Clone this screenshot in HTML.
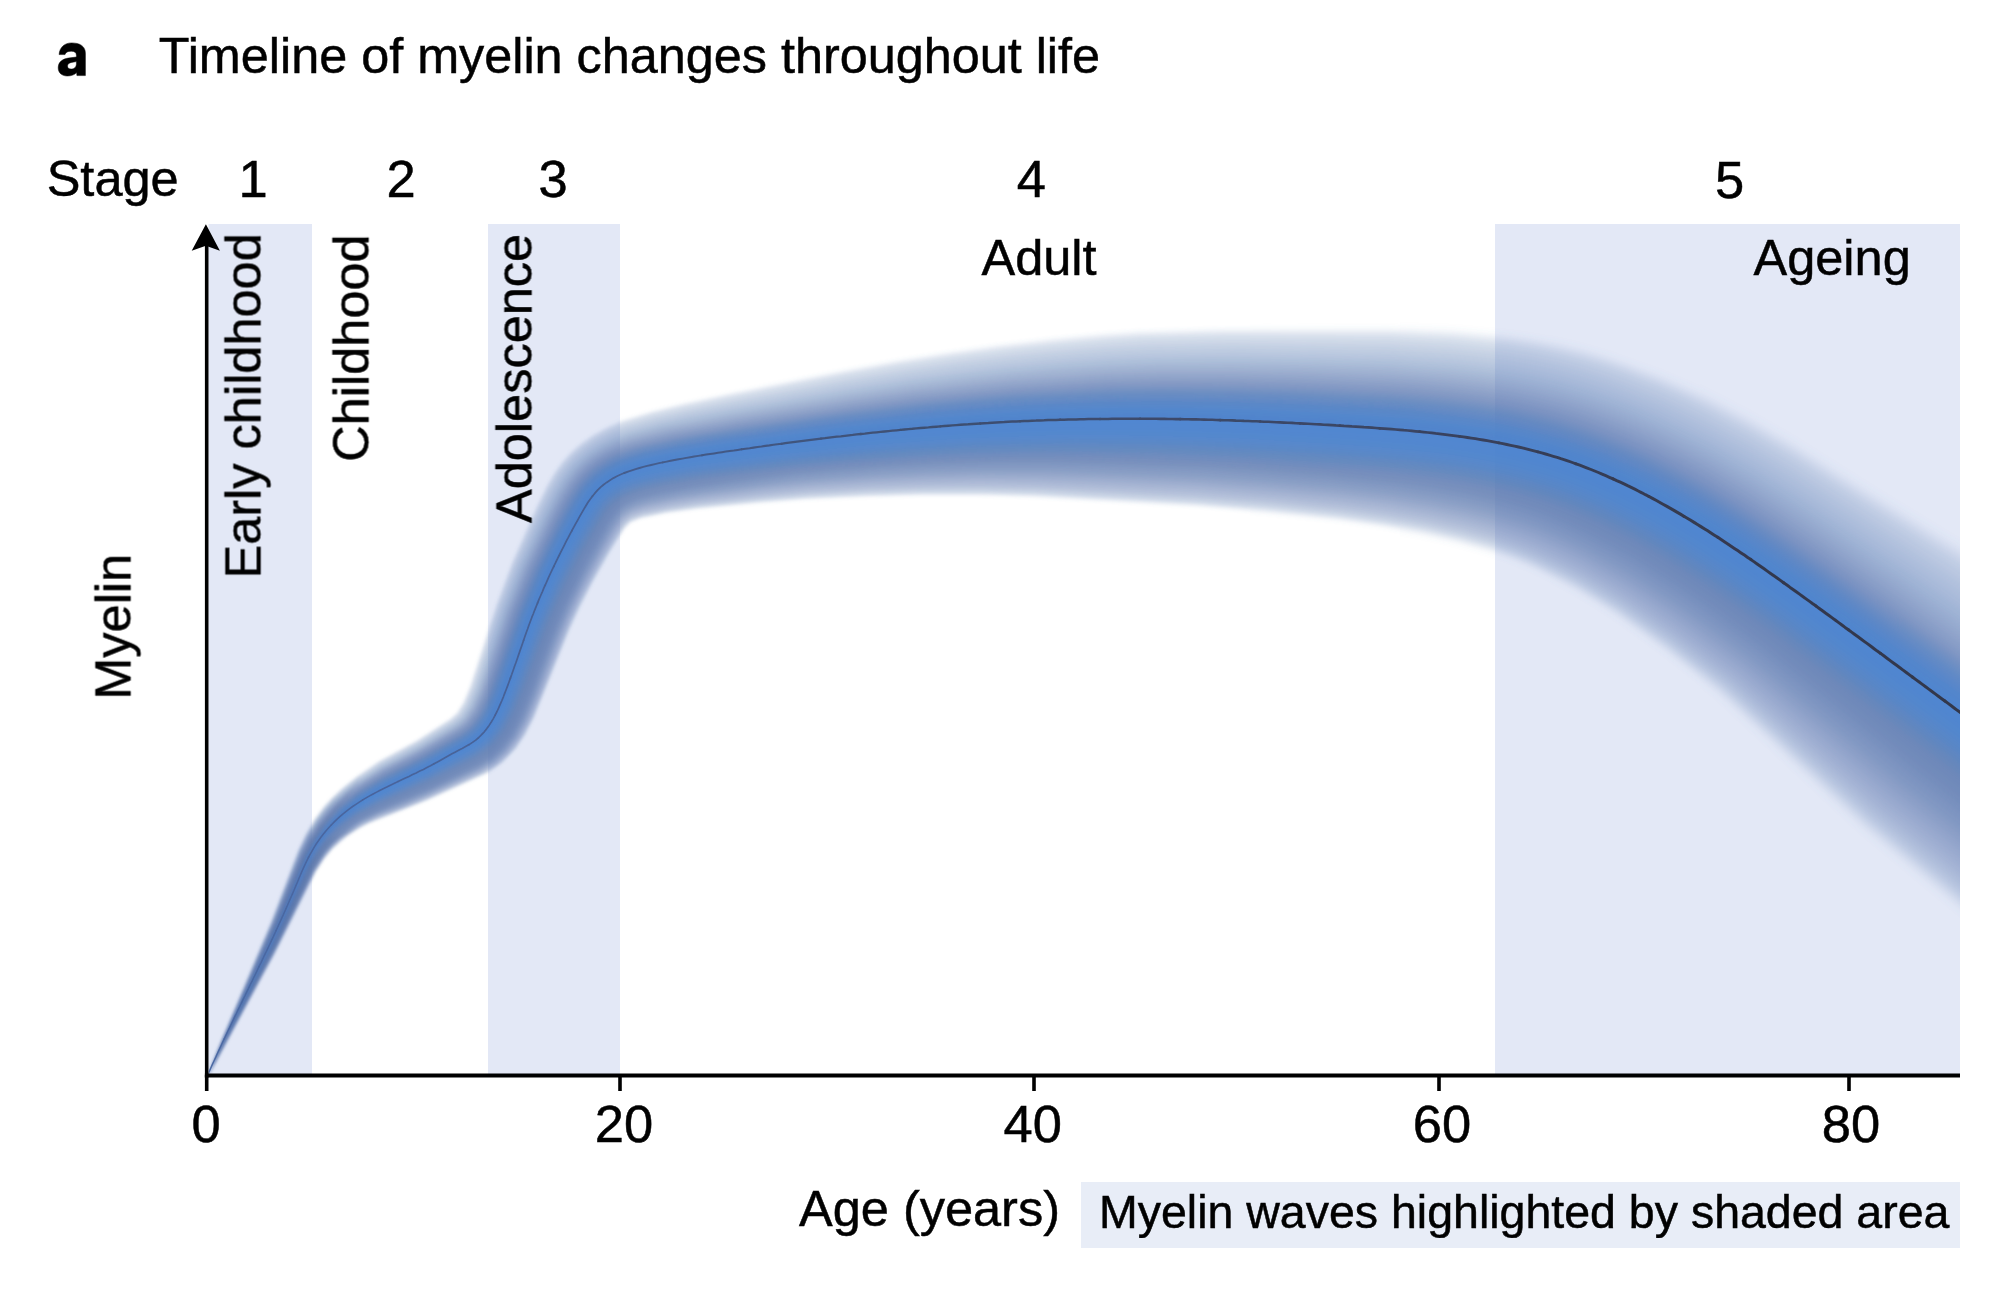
<!DOCTYPE html>
<html><head><meta charset="utf-8"><title>Timeline of myelin changes throughout life</title>
<style>
html,body{margin:0;padding:0;background:#fff;width:2016px;height:1304px;overflow:hidden}
svg{display:block;font-family:"Liberation Sans",sans-serif}
text{fill:#000}
</style></head><body>
<svg width="2016" height="1304" viewBox="0 0 2016 1304">
<defs>
<clipPath id="clipband"><rect x="208.5" y="150" width="1751.5" height="1000"/></clipPath>
<filter id="soft" x="0" y="0" width="2016" height="1304" filterUnits="userSpaceOnUse"><feGaussianBlur stdDeviation="1.5"/></filter>
<filter id="softl" x="0" y="0" width="2016" height="1304" filterUnits="userSpaceOnUse"><feGaussianBlur stdDeviation="0.7"/></filter>
</defs>
<rect x="0" y="0" width="2016" height="1304" fill="#ffffff"/>
<!-- shaded stage bands -->
<rect x="208.5" y="224" width="103.5" height="850" fill="#e3e8f6"/>
<rect x="488" y="224" width="132" height="850" fill="#e3e8f6"/>
<rect x="1495" y="224" width="465" height="850" fill="#e3e8f6"/>
<!-- legend box -->
<rect x="1081" y="1182" width="879" height="66" fill="#e8edf7"/>

<defs><path id="L0" d="M244.6,999.5 247.1,994.5 246.9,993.5 248.1,992.5 247.7,991.5 248.5,991.4 251.7,985.5 251.5,984.5 252.5,983.7 257.0,973.5 259.6,969.5 260.4,966.5 261.5,965.5 277.8,931.5 309.0,861.5 319.1,844.5 330.2,830.5 347.5,814.6 365.5,802.5 386.5,791.5 427.5,772.2 471.5,748.3 483.2,739.5 491.7,729.5 499.0,717.5 506.6,700.5 535.2,620.5 554.6,574.5 570.2,542.5 586.1,512.5 593.6,500.5 600.9,491.5 609.5,484.1 619.5,478.0 637.5,470.7 650.5,467.2 672.5,462.1 705.5,456.1 796.5,442.1 901.5,430.2 981.5,424.0 1069.5,420.3 1163.5,419.9 1219.5,421.1 1277.5,423.4 1343.5,427.1 1399.5,431.3 1438.5,435.5 1472.5,440.3 1498.5,445.1 1525.5,451.2 1563.5,462.5 1587.5,471.6 1611.5,482.0 1650.5,501.3 1693.5,526.3 1735.5,553.6 1797.5,597.5 1959.5,719.7 2015.5,761.2 2015.5,756.2 1959.5,714.4 1801.5,593.3 1744.5,552.6 1704.5,526.0 1661.5,500.2 1616.5,477.2 1587.5,464.6 1568.5,457.3 1547.5,450.3 1525.5,444.3 1496.5,437.8 1464.5,432.1 1428.5,427.3 1392.5,423.6 1328.5,419.5 1262.5,416.3 1202.5,414.4 1142.5,413.7 1048.5,415.3 958.5,420.4 872.5,428.5 761.5,442.7 682.5,454.6 658.5,459.3 638.5,464.2 625.5,468.5 613.5,474.0 601.5,482.0 593.7,489.5 584.7,501.5 573.8,520.5 556.3,554.5 543.5,581.5 527.4,620.5 508.5,674.5 498.6,700.5 492.1,714.5 486.1,724.5 477.5,734.6 468.5,741.4 428.5,763.4 384.5,785.0 361.5,797.9 343.5,810.8 327.5,826.5 317.5,839.5 305.7,860.5 270.5,942.5 252.5,979.5 252.8,980.5 248.3,988.5 248.7,989.5 247.5,990.2 245.1,996.5 244.1,997.5 244.3,998.5 243.1,999.5 243.5,1000.2ZM240.1,1008.5 242.7,1003.5 242.5,1002.5 243.7,1001.5 243.5,1000.9 242.5,1000.9 241.0,1005.5 239.8,1006.5 240.5,1007.5 238.9,1008.5 239.5,1009.2Z"/><path id="L1" d="M231.6,1026.5 234.0,1020.5 238.7,1012.5 238.6,1011.5 246.7,996.5 277.6,933.5 309.2,863.5 319.1,846.5 328.5,834.3 336.5,826.0 345.5,818.1 364.5,805.0 378.5,797.5 431.5,772.4 474.5,749.1 486.3,739.5 494.5,729.4 502.0,716.5 509.5,699.5 538.2,619.5 556.8,575.5 572.4,543.5 587.2,515.5 595.2,502.5 602.4,493.5 609.5,487.2 620.5,480.3 632.5,475.1 643.5,471.5 686.5,461.9 755.5,450.5 794.5,444.7 846.5,438.3 900.5,432.8 947.5,429.0 1039.5,424.1 1135.5,422.9 1193.5,423.7 1251.5,425.6 1315.5,428.9 1379.5,433.3 1418.5,436.8 1454.5,441.2 1489.5,447.0 1518.5,453.2 1558.5,464.6 1593.5,478.1 1636.5,498.1 1681.5,523.2 1733.5,556.6 1790.5,596.8 2015.5,764.9 2015.5,752.3 1961.5,711.9 1803.5,590.5 1746.5,549.7 1699.5,518.6 1652.5,491.2 1627.5,478.5 1605.5,468.4 1579.5,457.6 1558.5,450.1 1516.5,438.4 1487.5,432.4 1455.5,427.1 1417.5,422.4 1383.5,419.4 1310.5,415.1 1242.5,412.3 1176.5,410.8 1116.5,410.7 1020.5,413.7 926.5,420.5 838.5,430.2 705.5,448.4 659.5,456.7 640.5,461.1 626.5,465.5 616.5,469.7 606.5,475.3 598.3,481.5 590.4,489.5 581.8,501.5 572.7,517.5 544.5,573.5 526.5,616.3 496.5,699.5 490.0,713.5 484.0,723.5 474.5,734.3 465.5,740.6 420.5,765.3 381.5,784.4 360.5,796.6 350.5,803.4 339.4,812.5 325.1,827.5 315.5,840.5 305.6,858.5 271.4,938.5 231.0,1024.5 231.2,1025.5 230.1,1026.5 230.5,1027.3ZM226.5,1036.2 229.7,1030.5 229.5,1029.5 228.5,1030.0 227.9,1032.5 226.9,1033.5 227.4,1034.5 226.0,1035.5Z"/><path id="L2" d="M222.5,1045.2 225.6,1039.5 224.7,1038.5 226.5,1037.6 276.2,937.5 309.0,865.5 318.7,848.5 327.9,836.5 334.5,829.4 344.5,820.4 355.5,812.2 365.5,806.0 382.5,797.1 430.5,774.8 475.5,750.6 485.9,742.5 496.0,730.5 503.6,717.5 511.1,700.5 538.1,625.5 554.5,585.5 582.7,528.5 593.2,509.5 601.5,497.8 608.9,490.5 616.5,485.1 626.5,479.9 635.5,476.4 665.5,468.4 708.5,460.3 793.5,447.0 900.5,435.2 997.5,428.6 1091.5,426.0 1155.5,426.2 1211.5,427.4 1275.5,430.1 1344.5,434.2 1400.5,438.6 1432.5,442.0 1469.5,447.2 1504.5,453.8 1542.5,463.4 1577.5,475.5 1622.5,495.3 1662.5,516.4 1711.5,546.4 1773.5,589.1 2015.5,769.2 2015.5,747.9 1963.5,708.9 1805.7,587.5 1748.5,546.5 1701.5,515.5 1675.5,499.8 1650.5,486.0 1625.5,473.4 1599.5,461.8 1578.5,453.3 1555.5,445.2 1513.5,434.0 1483.5,427.9 1451.5,422.9 1411.5,418.2 1379.5,415.6 1303.5,411.4 1234.5,408.7 1168.5,407.5 1108.5,407.8 1014.5,411.3 919.5,418.7 834.5,428.4 691.5,448.4 649.5,456.6 635.5,460.2 623.5,464.2 613.5,468.7 603.8,474.5 595.0,481.5 587.5,489.6 578.7,502.5 567.0,523.5 539.5,579.5 524.6,615.5 496.8,693.5 489.9,709.5 483.8,720.5 474.8,731.5 464.5,739.1 421.5,762.9 379.5,783.8 358.2,796.5 338.5,811.7 324.5,826.6 314.5,840.5 305.7,856.5 276.6,925.5 226.5,1033.5 227.0,1034.5 225.7,1035.5 226.2,1036.5 224.9,1037.5 222.4,1042.5 223.4,1043.5 221.6,1044.5Z"/><path id="L3" d="M218.6,1053.5 220.2,1050.5 219.8,1049.5 221.2,1048.5 220.6,1047.5 222.1,1046.5 224.7,1041.5 225.5,1038.5 226.5,1037.8 275.8,939.5 308.7,867.5 317.0,852.5 327.3,838.5 342.3,823.5 359.5,810.9 379.5,800.0 431.5,775.9 472.5,754.2 485.5,745.1 492.0,738.5 497.4,731.5 504.5,719.5 512.2,702.5 540.4,624.5 556.2,586.5 583.3,531.5 593.8,512.5 601.9,500.5 607.5,494.5 615.1,488.5 622.5,484.1 634.5,479.0 660.5,471.8 704.5,463.2 793.5,449.2 900.5,437.7 992.5,431.5 1085.5,429.0 1149.5,429.2 1207.5,430.5 1272.5,433.3 1338.5,437.3 1398.5,442.0 1433.5,445.8 1470.5,451.1 1503.5,457.4 1526.5,462.8 1548.5,469.2 1588.5,484.1 1615.5,496.1 1636.5,506.6 1684.5,533.9 1727.5,561.7 1784.5,601.9 2015.5,774.0 2015.5,743.2 1964.5,704.8 1808.2,584.5 1752.5,544.6 1703.5,512.2 1677.5,496.6 1652.5,482.7 1628.5,470.6 1602.5,458.9 1579.5,449.6 1556.5,441.6 1512.5,429.9 1482.5,424.0 1450.5,419.1 1411.5,414.6 1379.5,412.0 1303.5,408.0 1235.5,405.5 1166.5,404.4 1108.5,404.7 1011.5,408.7 917.5,416.3 835.5,426.0 736.5,439.5 684.5,447.4 648.5,454.6 624.5,461.6 614.5,465.9 604.5,471.5 597.5,476.6 590.1,483.5 581.5,494.3 572.9,508.5 558.6,535.5 541.1,571.5 523.0,614.5 493.8,696.5 486.0,713.5 478.9,724.5 471.2,732.5 462.5,738.4 422.5,760.7 380.5,781.8 357.5,795.6 345.5,804.4 336.2,812.5 321.2,829.5 311.8,843.5 303.6,859.5 276.1,925.5 231.3,1022.5 226.4,1033.5 226.5,1034.5 222.3,1042.5 222.5,1043.5 221.4,1044.5 222.5,1045.5 220.6,1046.5 218.5,1052.5 217.4,1053.5Z"/><path id="L4" d="M218.5,1054.1 220.5,1050.5 220.1,1049.5 221.4,1048.5 221.1,1047.5 224.8,1041.5 275.2,941.5 309.9,866.5 317.8,852.5 326.6,840.5 341.5,825.3 350.5,818.2 361.5,810.9 378.5,801.7 430.5,777.9 469.5,757.5 481.2,750.5 489.5,743.4 499.9,730.5 508.5,715.0 520.1,686.5 543.4,621.5 555.4,592.5 582.2,537.5 593.6,516.5 601.5,504.2 607.2,497.5 614.5,491.3 621.5,486.9 631.5,482.3 643.5,478.2 658.5,474.4 697.5,466.5 793.5,451.4 888.5,441.2 982.5,434.7 1075.5,432.0 1143.5,432.3 1197.5,433.4 1258.5,435.9 1320.5,439.5 1419.5,447.8 1458.5,452.9 1495.5,459.5 1521.5,465.5 1542.5,471.3 1560.5,477.3 1583.5,486.2 1629.5,507.3 1653.5,520.2 1680.5,536.0 1728.5,567.2 1788.5,609.7 1947.5,729.0 2015.5,779.2 2015.5,738.0 1810.5,581.2 1751.5,539.1 1705.5,508.8 1679.5,493.2 1652.5,478.3 1628.5,466.4 1602.5,454.8 1579.5,445.5 1557.5,437.9 1513.5,426.3 1483.5,420.4 1452.5,415.7 1414.5,411.2 1381.5,408.6 1303.5,404.6 1235.5,402.2 1166.5,401.2 1108.5,401.7 1011.5,405.9 917.5,413.8 837.5,423.5 732.5,437.9 682.5,445.6 644.5,453.5 621.5,460.6 611.5,465.2 603.5,469.8 595.8,475.5 588.5,482.4 580.4,492.5 571.3,507.5 557.0,534.5 541.0,567.5 522.7,610.5 491.6,697.5 485.3,711.5 477.7,723.5 470.5,731.1 461.5,737.3 423.5,758.7 381.5,779.9 358.5,793.7 346.5,802.4 337.1,810.5 321.8,827.5 312.2,841.5 303.9,857.5 272.5,932.5 227.1,1031.5 221.3,1044.5 221.7,1045.5 220.5,1046.4 218.4,1052.5 217.4,1053.5Z"/><path id="L5" d="M218.5,1054.4 275.6,941.5 310.4,866.5 317.2,854.5 325.0,843.5 332.5,834.9 340.5,827.2 349.5,820.0 361.5,812.0 380.5,801.9 430.5,779.2 471.5,758.0 481.5,752.0 490.5,744.4 501.0,731.5 509.9,715.5 519.5,692.5 542.1,629.5 554.6,598.5 580.0,545.5 595.2,517.5 602.8,505.5 608.5,498.8 614.5,493.6 622.5,488.5 630.5,484.8 653.5,477.6 695.5,469.0 792.5,453.7 879.5,444.5 974.5,437.8 1069.5,435.0 1189.5,436.4 1246.5,438.6 1306.5,442.0 1361.5,446.0 1413.5,450.8 1452.5,455.8 1490.5,462.3 1513.5,467.4 1537.5,473.8 1555.5,479.6 1578.5,488.3 1605.5,500.1 1629.5,511.8 1653.5,524.8 1678.5,539.5 1724.5,569.4 1784.5,611.9 1944.9,732.5 2015.5,784.6 2015.5,732.6 1812.5,577.6 1753.5,535.5 1704.5,503.5 1679.5,488.6 1652.5,473.9 1628.5,462.0 1602.4,450.5 1580.5,441.8 1558.5,434.2 1536.5,427.9 1512.5,422.2 1483.5,416.6 1451.5,411.8 1412.5,407.4 1381.5,405.0 1303.5,401.2 1235.5,399.0 1164.5,398.1 1108.5,398.7 1013.5,403.0 917.5,411.3 837.5,421.2 728.5,436.4 680.5,443.9 644.3,451.5 621.5,458.5 610.5,463.5 602.5,468.2 594.5,474.2 587.5,480.8 578.9,491.5 570.5,505.3 554.6,535.5 538.7,568.5 520.7,611.5 491.7,693.5 484.1,710.5 476.7,722.5 470.2,729.5 462.5,735.1 419.5,759.4 382.5,778.1 359.5,791.9 347.5,800.5 338.0,808.5 322.4,825.5 312.7,839.5 303.3,857.5 273.9,928.5 217.3,1053.5Z"/><path id="L6" d="M218.0,1055.5 278.4,936.5 311.0,866.5 318.5,853.5 326.5,842.6 340.5,828.2 349.5,821.0 360.5,813.6 377.5,804.5 431.5,780.0 472.5,758.9 484.4,751.5 492.3,744.5 502.5,731.7 511.9,714.5 522.9,687.5 545.6,624.5 557.6,595.5 583.5,542.5 596.6,518.5 603.5,507.5 609.3,500.5 614.5,495.9 620.5,491.8 629.5,487.2 648.5,480.9 688.5,472.3 792.5,455.8 867.5,447.9 964.5,440.9 1059.5,438.0 1109.5,438.0 1181.5,439.3 1292.5,444.5 1349.5,448.5 1404.5,453.5 1447.5,458.8 1482.5,464.6 1508.5,470.1 1532.5,476.3 1550.5,482.0 1573.5,490.5 1598.5,501.2 1622.5,512.7 1649.5,527.1 1674.5,541.8 1722.5,573.0 1783.5,616.4 1940.5,734.8 2015.5,790.3 2015.5,727.0 1815.5,574.5 1754.5,531.2 1704.5,498.7 1679.5,484.0 1652.5,469.4 1628.2,457.5 1601.5,445.8 1579.5,437.3 1557.5,429.8 1512.5,418.3 1482.5,412.7 1451.5,408.1 1412.5,403.8 1383.5,401.6 1303.5,397.8 1235.5,395.7 1164.5,394.9 1107.5,395.7 1013.5,400.2 918.5,408.7 840.5,418.5 727.5,434.4 677.5,442.4 637.5,451.2 624.5,455.4 613.5,460.0 603.5,465.4 593.5,472.6 586.2,479.5 578.5,489.0 571.2,500.5 560.4,520.5 535.5,571.5 518.5,612.9 488.9,696.5 480.4,714.5 472.4,725.5 466.5,730.9 458.5,736.0 420.5,757.6 385.5,775.2 359.5,790.7 347.4,799.5 337.5,807.9 328.5,817.1 320.8,826.5 311.4,840.5 302.8,857.5 273.5,928.5 228.5,1027.5 216.5,1056.3ZM213.5,1063.1 214.9,1060.5 216.1,1059.5 215.7,1058.5 217.1,1057.5 216.5,1056.6Z"/><path id="L7" d="M213.5,1063.3 216.2,1059.5 215.9,1058.5 217.1,1057.5 216.9,1056.5 219.7,1052.5 274.3,945.5 310.5,868.5 317.8,855.5 325.7,844.5 334.5,834.7 341.5,828.3 351.5,820.5 362.5,813.3 379.5,804.5 431.5,781.2 472.5,760.3 483.5,753.7 493.1,745.5 503.5,732.5 512.4,716.5 523.6,689.5 545.6,628.5 558.8,596.5 582.2,548.5 596.2,522.5 604.5,509.0 609.8,502.5 615.5,497.3 621.5,493.3 630.5,488.8 650.5,482.3 684.5,475.0 794.5,457.7 861.5,450.8 905.5,447.1 958.5,443.8 1004.5,441.9 1053.5,441.0 1103.5,441.0 1178.5,442.4 1285.5,447.4 1347.5,451.8 1400.5,456.6 1441.5,461.7 1477.5,467.5 1505.5,473.4 1529.5,479.5 1547.5,485.1 1570.5,493.6 1598.5,505.6 1620.5,516.2 1644.5,529.0 1672.5,545.4 1721.5,577.4 1779.5,618.8 1937.5,738.4 2015.5,796.3 2015.5,721.1 1817.5,570.7 1756.5,527.5 1706.5,495.1 1679.9,479.5 1654.5,465.9 1629.5,453.7 1603.5,442.4 1581.5,433.8 1558.5,426.1 1536.5,420.0 1511.5,414.2 1482.5,408.9 1451.5,404.4 1415.5,400.4 1384.5,398.1 1303.5,394.4 1235.5,392.5 1162.5,391.8 1107.5,392.7 1010.5,397.7 916.5,406.4 838.5,416.4 723.5,432.9 675.5,440.8 636.5,449.5 613.5,458.0 602.5,463.9 592.5,471.2 584.8,478.5 577.5,487.5 569.9,499.5 558.0,521.5 533.4,572.5 516.4,614.5 488.3,694.5 480.0,712.5 471.5,724.6 466.2,729.5 459.5,734.0 418.5,757.4 383.5,775.2 358.5,790.4 346.5,799.2 335.5,808.7 320.0,826.5 310.8,840.5 302.5,856.9 274.0,926.5 227.5,1029.5Z"/><path id="L8" d="M213.7,1064.5 213.5,1063.5 216.3,1059.5 216.0,1058.5 217.2,1057.5 274.7,945.5 311.0,868.5 318.4,855.5 324.8,846.5 333.5,836.5 340.5,830.0 350.5,822.1 361.5,814.8 379.5,805.5 430.5,782.9 473.5,761.1 485.8,753.5 495.5,744.8 505.7,731.5 514.3,715.5 525.4,688.5 548.3,625.5 559.5,598.5 583.4,549.5 604.8,511.5 610.2,504.5 615.5,499.5 622.5,494.7 629.5,491.2 647.5,485.0 677.5,478.3 714.5,471.9 793.5,460.0 847.5,454.5 899.5,450.0 946.5,447.1 994.5,445.0 1043.5,443.9 1093.5,443.9 1166.5,445.2 1269.5,449.8 1345.5,455.1 1396.5,459.9 1434.5,464.4 1467.5,469.5 1495.5,475.0 1519.5,480.8 1542.5,487.5 1563.5,495.1 1591.5,506.9 1613.5,517.2 1640.5,531.5 1665.5,546.0 1717.5,579.8 1778.5,623.4 1936.2,743.5 2015.5,802.5 2015.5,715.0 1820.5,567.5 1757.5,523.0 1705.5,489.6 1678.5,474.0 1652.5,460.3 1629.5,449.3 1602.5,437.7 1580.5,429.2 1559.5,422.3 1535.5,415.8 1510.5,410.1 1481.5,404.9 1450.5,400.5 1413.5,396.6 1384.5,394.6 1301.5,391.0 1235.5,389.2 1162.5,388.6 1107.5,389.6 1010.5,394.9 916.5,403.9 858.5,411.3 739.5,428.5 672.5,439.4 634.5,448.2 621.5,452.6 610.4,457.5 599.5,463.8 590.7,470.5 583.4,477.5 575.5,487.5 567.4,500.5 555.7,522.5 532.7,570.5 515.6,612.5 486.5,695.5 478.0,713.5 470.5,723.9 465.5,728.6 457.5,733.8 419.5,755.7 384.5,773.5 358.3,789.5 346.5,798.2 336.5,806.8 327.5,816.2 319.5,826.3 310.2,840.5 302.5,855.8 273.6,926.5 226.5,1031.5 213.3,1062.5 213.5,1063.5 212.4,1064.5Z"/><path id="L9" d="M213.5,1065.0 216.4,1059.5 216.2,1058.5 217.3,1057.5 277.5,940.5 312.0,867.5 319.0,855.5 325.4,846.5 332.5,838.4 340.5,830.8 352.5,821.5 361.5,815.7 378.5,806.9 430.5,784.0 473.5,762.3 486.5,754.4 496.4,745.5 506.5,732.4 515.5,715.8 526.7,688.5 549.0,627.5 561.5,597.5 584.1,551.5 605.4,513.5 610.5,506.7 615.5,501.7 621.5,497.3 628.5,493.5 644.5,487.7 675.5,480.6 714.5,473.9 789.5,462.7 838.5,457.6 895.5,452.8 940.5,449.9 988.5,447.9 1037.5,446.8 1089.5,446.8 1162.5,448.3 1261.5,452.6 1372.5,461.1 1420.5,466.3 1460.5,472.2 1487.5,477.3 1514.5,483.5 1539.5,490.7 1558.5,497.4 1579.5,506.0 1608.5,519.3 1633.5,532.3 1661.5,548.5 1711.5,580.9 1772.5,624.5 1933.3,747.5 2015.5,808.9 2015.5,708.7 1822.5,563.5 1759.5,519.2 1707.5,485.9 1680.5,470.4 1654.5,456.7 1631.0,445.5 1603.5,433.7 1581.5,425.4 1560.5,418.5 1535.5,411.7 1510.5,406.2 1481.5,401.0 1450.5,396.8 1413.5,393.0 1384.5,391.0 1301.5,387.6 1235.5,386.0 1162.5,385.5 1107.5,386.6 1012.5,392.0 917.5,401.3 859.5,408.8 740.5,426.3 672.5,437.5 635.5,446.0 622.5,450.3 611.5,455.0 600.5,461.1 590.5,468.5 582.1,476.5 574.5,486.1 566.7,498.5 556.1,518.5 531.6,569.5 514.5,611.5 493.4,673.5 485.2,695.5 477.7,711.5 469.5,723.2 463.7,728.5 456.5,733.1 420.5,754.0 384.4,772.5 359.5,787.7 347.4,796.5 335.9,806.5 327.3,815.5 319.4,825.5 309.1,841.5 301.7,856.5 274.2,924.5 222.5,1040.5 213.2,1062.5 213.4,1063.5 212.4,1064.5Z"/><path id="L10" d="M213.5,1065.1 274.2,947.5 312.4,867.5 324.5,848.4 330.5,841.3 339.5,832.4 351.5,823.0 360.5,817.1 378.5,807.7 432.5,784.1 474.5,763.0 486.9,755.5 497.1,746.5 507.8,732.5 516.5,716.5 527.6,689.5 550.8,626.5 561.2,601.5 584.1,554.5 606.6,514.5 615.5,503.8 621.5,499.3 627.5,495.9 644.5,489.6 670.5,483.5 703.5,477.6 764.5,468.4 795.5,464.1 828.5,460.8 929.5,453.1 980.5,450.8 1029.5,449.7 1083.5,449.7 1156.5,451.3 1251.5,455.3 1361.5,463.5 1412.5,469.0 1452.5,474.6 1480.5,479.7 1506.5,485.5 1531.5,492.4 1553.5,499.8 1577.5,509.5 1606.5,522.9 1631.5,536.0 1657.5,551.0 1707.5,583.4 1771.5,629.3 1930.1,751.5 2015.5,815.5 2015.5,702.3 1885.5,604.4 1820.5,556.5 1758.5,513.3 1707.5,481.0 1680.5,465.6 1655.5,452.6 1630.5,440.8 1603.5,429.4 1581.5,421.1 1559.5,414.1 1534.5,407.5 1509.5,402.0 1480.5,397.1 1450.5,393.0 1413.5,389.3 1384.5,387.5 1299.5,384.2 1235.5,382.7 1160.5,382.4 1107.5,383.6 1010.5,389.4 915.5,399.0 857.5,406.7 738.5,424.5 670.5,435.9 632.5,445.0 619.5,449.6 608.5,454.6 597.5,461.1 588.5,468.0 580.9,475.5 573.0,485.5 565.5,497.5 553.9,519.5 530.0,569.5 513.8,609.5 492.8,671.5 483.5,696.5 475.8,712.5 468.6,722.5 463.5,727.2 456.5,731.8 420.5,752.9 383.5,772.0 358.5,787.5 345.5,797.2 335.5,805.9 326.5,815.5 318.7,825.5 308.6,841.5 301.3,856.5 274.7,922.5 227.2,1029.5 213.2,1062.5 213.4,1063.5 212.3,1064.5Z"/><path id="L11" d="M213.5,1065.2 273.5,949.5 311.8,869.5 317.4,859.5 325.0,848.5 333.5,838.9 341.5,831.5 360.5,817.9 380.5,807.7 431.5,785.6 474.5,764.2 487.5,756.4 497.6,747.5 508.6,733.5 517.5,717.1 528.2,691.5 550.6,630.5 563.1,600.5 584.7,556.5 607.1,516.5 616.5,505.1 628.0,497.5 643.5,491.7 668.5,485.8 699.5,480.2 754.5,472.0 795.5,466.2 824.5,463.4 923.5,455.9 974.5,453.7 1023.5,452.6 1108.5,453.2 1182.5,455.2 1239.5,457.9 1347.5,465.7 1400.5,471.2 1442.5,476.8 1472.5,482.0 1501.5,488.3 1528.5,495.6 1548.5,502.2 1572.5,511.8 1601.5,525.1 1627.5,538.6 1653.5,553.6 1706.5,588.1 1770.5,634.2 1926.8,755.5 2015.5,822.3 2015.5,695.7 1888.5,600.7 1816.5,548.1 1757.5,507.4 1708.3,476.5 1680.5,460.8 1655.5,447.9 1632.5,437.2 1604.5,425.4 1582.5,417.2 1560.5,410.2 1535.5,403.7 1510.5,398.3 1482.5,393.5 1451.5,389.4 1416.5,386.0 1386.5,384.0 1301.5,380.9 1237.5,379.5 1162.5,379.2 1109.5,380.5 1013.5,386.4 917.5,396.2 858.5,404.2 738.5,422.5 669.5,434.3 632.5,443.2 618.5,448.2 607.5,453.2 596.5,459.8 587.5,466.8 579.7,474.5 571.8,484.5 563.2,498.5 551.7,520.5 528.1,570.5 511.4,612.5 491.2,672.5 483.0,694.5 475.6,710.5 468.0,721.5 462.7,726.5 455.5,731.2 418.5,752.9 383.5,771.0 358.5,786.6 346.5,795.5 335.0,805.5 319.5,823.5 310.3,837.5 301.7,854.5 274.4,922.5 233.6,1014.5 218.5,1049.5 213.1,1062.5 213.3,1063.5 212.3,1064.5Z"/><path id="L12" d="M213.5,1065.3 277.3,942.5 312.2,869.5 317.9,859.5 324.8,849.5 333.5,839.6 340.5,833.0 350.5,825.2 362.5,817.5 377.5,809.9 431.5,786.6 475.5,764.8 488.5,757.0 498.5,748.2 509.5,734.1 518.5,717.5 529.8,690.5 552.3,629.5 563.7,602.5 586.8,555.5 608.3,517.5 616.5,507.2 627.5,499.6 642.5,493.8 665.5,488.3 705.5,481.2 778.5,470.7 795.5,468.4 844.5,463.9 901.5,459.7 950.5,457.2 1002.5,455.6 1055.5,455.3 1199.5,459.1 1266.5,462.9 1335.5,468.2 1394.5,474.1 1432.5,479.1 1471.5,485.7 1504.5,493.1 1527.5,499.5 1545.5,505.4 1565.5,513.3 1589.5,523.9 1612.5,535.3 1633.5,546.8 1678.5,574.5 1718.5,601.9 1767.5,637.7 1923.5,759.7 2015.5,829.3 2015.5,689.0 1892.5,597.6 1815.5,541.8 1756.5,501.4 1708.5,471.6 1680.5,456.0 1655.5,443.2 1631.5,432.2 1604.5,421.0 1583.5,413.3 1561.5,406.4 1536.5,399.9 1510.5,394.3 1481.5,389.5 1451.5,385.7 1416.5,382.3 1386.5,380.4 1299.5,377.4 1235.5,376.2 1160.5,376.1 1108.5,377.5 1011.5,383.8 914.5,394.1 858.5,401.8 735.5,420.9 667.5,432.8 631.5,441.7 618.1,446.5 606.5,451.9 595.5,458.6 586.5,465.6 578.5,473.5 570.6,483.5 562.6,496.5 552.1,516.5 527.5,568.5 510.8,610.5 482.6,692.5 474.9,709.5 467.5,720.5 462.5,725.3 456.5,729.4 419.5,751.3 382.6,770.5 359.5,785.0 347.5,793.8 336.3,803.5 328.5,811.5 318.9,823.5 309.8,837.5 301.3,854.5 274.1,922.5 232.6,1016.5 217.6,1051.5 213.2,1063.5 212.3,1064.5Z"/><path id="L13" d="M213.5,1065.4 276.6,944.5 312.6,869.5 319.0,858.5 325.4,849.5 331.5,842.3 340.5,833.7 350.5,826.0 361.5,818.8 377.5,810.7 430.5,788.0 475.5,766.0 488.5,758.2 499.5,748.6 510.5,734.5 519.5,718.0 530.2,692.5 552.8,631.5 565.5,601.5 587.8,556.5 608.5,519.8 616.5,509.3 626.5,501.9 639.5,496.5 662.5,490.7 699.5,484.0 766.5,474.4 795.5,470.6 838.5,466.7 897.5,462.4 945.5,460.0 998.5,458.4 1051.5,458.2 1100.5,459.0 1199.5,462.3 1264.5,466.1 1333.5,471.4 1395.5,477.8 1431.5,482.7 1470.5,489.5 1503.5,496.9 1527.5,503.6 1545.5,509.7 1565.5,517.7 1589.5,528.5 1631.5,550.6 1677.5,579.1 1715.5,605.3 1764.9,641.5 1919.5,763.5 2015.5,836.5 2015.5,682.1 1895.5,593.6 1811.5,533.4 1755.5,495.5 1708.5,466.6 1682.5,452.2 1657.5,439.5 1633.5,428.5 1605.5,417.0 1584.5,409.4 1562.5,402.5 1537.5,396.1 1511.5,390.6 1483.5,385.9 1453.5,382.1 1418.5,378.8 1388.5,377.0 1299.5,374.1 1235.5,372.9 1160.5,373.0 1108.5,374.4 1011.5,381.0 914.5,391.6 857.5,399.6 733.5,419.2 666.5,431.2 630.5,440.2 617.5,445.0 605.7,450.5 594.5,457.3 585.5,464.4 577.3,472.5 569.5,482.5 561.5,495.5 551.1,515.5 526.6,567.5 509.5,610.4 490.1,668.5 481.0,693.5 473.7,709.5 466.1,720.5 461.5,724.8 454.5,729.5 418.5,750.9 382.5,769.6 357.5,785.6 345.5,794.6 334.4,804.5 326.5,812.9 317.5,824.6 308.2,839.5 300.9,854.5 273.8,922.5 228.5,1025.5 212.2,1064.5Z"/><path id="L14" d="M213.5,1065.5 273.3,951.5 313.0,869.5 319.5,858.5 325.9,849.5 340.5,834.4 352.5,825.2 361.5,819.5 379.5,810.5 430.5,788.9 476.5,766.5 489.5,758.8 500.1,749.5 511.1,735.5 520.5,718.5 531.4,692.5 554.5,630.5 565.1,605.5 587.3,560.5 609.5,521.0 617.5,510.5 626.5,503.7 639.5,498.3 660.5,492.9 694.5,486.7 753.5,478.2 795.5,472.7 834.5,469.3 892.5,465.1 941.5,462.7 994.5,461.2 1049.5,461.0 1197.5,465.4 1262.5,469.3 1333.5,474.9 1393.5,481.2 1429.5,486.1 1466.5,492.6 1502.5,500.7 1524.5,506.9 1542.5,513.0 1562.5,520.9 1587.5,532.2 1630.5,555.0 1676.5,583.7 1714.5,610.1 1761.5,644.8 1916.5,768.1 2015.5,843.8 2015.5,675.2 1896.5,588.2 1812.5,528.5 1757.5,491.5 1708.5,461.6 1682.5,447.4 1656.8,434.5 1632.5,423.6 1604.5,412.2 1581.5,404.1 1561.5,398.0 1535.5,391.5 1509.5,386.2 1481.5,381.8 1452.5,378.3 1388.5,373.4 1299.5,370.7 1235.5,369.7 1157.5,369.9 1108.5,371.4 1010.5,378.3 913.5,389.2 855.5,397.6 734.5,417.0 666.5,429.3 630.5,438.4 616.5,443.6 604.5,449.3 593.5,456.1 584.2,463.5 576.2,471.5 567.7,482.5 560.4,494.5 549.5,515.5 525.2,567.5 508.5,609.5 480.6,691.5 473.0,708.5 465.6,719.5 460.5,724.3 453.5,729.0 418.5,749.9 381.5,769.3 358.5,784.0 346.5,793.0 335.5,802.6 327.5,810.9 318.4,822.5 308.8,837.5 300.5,854.4 274.4,920.5 228.4,1025.5 212.2,1064.5ZM209.0,1073.5 211.0,1070.5 210.7,1069.5 212.0,1068.5 211.6,1067.5 213.0,1066.5 212.5,1065.6 211.5,1066.2 209.5,1072.5 208.5,1073.5Z"/><path id="L15" d="M209.2,1073.5 211.0,1070.5 210.7,1069.5 212.1,1068.5 211.7,1067.5 214.6,1063.5 272.5,953.5 313.9,868.5 324.9,851.5 330.7,844.5 339.5,835.9 351.5,826.6 361.5,820.2 379.5,811.3 430.5,789.8 478.5,766.6 491.5,758.5 502.4,748.5 512.3,735.5 521.5,718.8 533.0,691.5 555.0,632.5 566.0,606.5 586.6,564.5 609.0,524.5 617.5,512.6 625.5,506.1 637.5,500.6 655.5,495.8 683.5,490.3 719.5,484.9 794.5,475.0 823.5,472.4 882.5,468.1 935.5,465.5 990.5,464.0 1045.5,463.9 1094.5,464.9 1197.5,468.6 1263.5,472.7 1334.5,478.4 1394.5,485.0 1428.5,489.7 1465.5,496.3 1502.5,504.8 1523.5,510.8 1542.5,517.3 1563.5,525.8 1588.5,537.4 1631.5,560.6 1675.6,588.5 1711.5,613.6 1758.6,648.5 1912.5,772.1 2015.5,851.3 2015.5,668.2 1897.5,582.7 1808.5,520.1 1756.5,485.5 1710.5,457.7 1684.4,443.5 1658.5,430.6 1634.5,419.9 1606.5,408.6 1584.5,400.8 1562.5,394.1 1536.5,387.7 1510.5,382.4 1482.5,378.1 1452.5,374.5 1388.5,369.8 1297.5,367.3 1232.5,366.4 1153.5,366.8 1105.5,368.5 1055.5,371.7 1006.5,375.9 909.5,387.2 853.5,395.5 728.5,416.0 661.5,428.6 629.5,436.9 615.5,442.2 603.5,448.1 592.5,454.9 583.0,462.5 575.1,470.5 566.7,481.5 558.8,494.5 547.5,516.5 523.4,568.5 507.3,609.5 480.2,689.5 472.9,706.5 465.2,718.5 460.0,723.5 453.5,727.9 419.5,748.4 381.5,768.4 358.5,783.2 346.5,792.2 334.8,802.5 327.2,810.5 317.8,822.5 308.5,837.2 301.0,852.5 274.1,920.5 224.5,1034.5 212.2,1064.5 213.1,1065.5 211.5,1066.2 209.5,1072.5 208.5,1073.5Z"/><path id="L16" d="M209.5,1073.5 211.0,1070.5 210.8,1069.5 212.1,1068.5 211.8,1067.5 214.7,1063.5 276.3,946.5 313.2,870.5 325.3,851.5 332.5,843.2 341.5,834.8 360.5,821.5 376.5,813.3 431.0,790.5 478.5,767.6 492.5,758.9 502.8,749.5 512.9,736.5 522.3,719.5 531.7,697.5 554.6,636.5 566.4,608.5 584.9,570.5 609.4,526.5 617.5,514.8 625.5,507.9 636.5,502.7 653.5,498.0 679.5,492.8 712.5,487.8 794.5,477.1 821.5,474.8 880.5,470.6 933.5,468.1 988.5,466.7 1044.5,466.7 1095.5,467.9 1198.5,471.8 1263.5,476.0 1334.5,481.9 1392.5,488.3 1429.5,493.7 1466.5,500.4 1501.5,508.6 1523.5,515.0 1542.5,521.7 1563.5,530.4 1586.5,541.1 1629.5,564.4 1674.5,593.2 1710.5,618.6 1755.5,652.1 1908.8,776.5 2015.5,858.9 2015.5,661.1 1903.5,580.7 1807.5,513.7 1756.5,480.1 1710.5,452.7 1684.2,438.5 1658.5,425.9 1633.5,414.9 1605.5,403.8 1583.5,396.2 1561.5,389.7 1537.5,383.8 1510.5,378.5 1482.5,374.2 1452.5,370.7 1388.5,366.3 1297.5,363.9 1234.5,363.1 1155.5,363.7 1107.5,365.4 1056.5,368.8 1007.5,373.1 910.5,384.6 854.5,393.0 730.5,413.7 661.5,426.8 628.5,435.5 615.5,440.5 603.1,446.5 591.5,453.8 581.9,461.5 574.1,469.5 565.6,480.5 557.8,493.5 546.5,515.5 522.9,566.5 506.4,608.5 487.0,667.5 478.0,692.5 471.2,707.5 463.9,718.5 455.5,725.5 420.5,746.9 381.5,767.5 358.4,782.5 344.5,793.1 334.5,802.0 326.5,810.5 317.3,822.5 308.4,836.5 300.6,852.5 275.5,916.5 223.5,1036.5 212.1,1064.5 212.5,1065.5 211.5,1066.1 209.4,1072.5 208.4,1073.5Z"/><path id="L17" d="M209.5,1073.5 211.1,1070.5 210.8,1069.5 212.1,1068.5 212.0,1067.5 214.7,1063.5 275.5,948.5 313.6,870.5 324.5,853.2 332.5,843.8 340.5,836.3 360.5,822.1 378.5,813.2 401.5,804.2 431.5,791.1 478.8,768.5 491.5,760.8 503.5,750.2 514.0,736.5 523.4,719.5 533.3,696.5 555.1,638.5 566.8,610.5 584.3,574.5 608.6,530.5 617.1,517.5 624.5,510.3 635.5,504.7 652.5,499.9 679.5,494.6 710.5,489.9 794.5,479.3 819.5,477.2 880.5,473.0 933.5,470.6 988.5,469.4 1044.5,469.5 1198.5,475.0 1265.5,479.5 1339.5,485.8 1392.5,492.0 1430.5,497.6 1466.5,504.4 1500.5,512.5 1522.5,518.9 1539.5,524.9 1558.5,532.7 1584.5,544.8 1606.5,556.3 1628.5,568.9 1673.5,598.0 1710.5,624.3 1752.5,655.8 1904.5,780.5 2015.5,866.7 2015.5,653.9 1904.5,575.1 1806.5,507.4 1755.5,474.2 1709.5,447.1 1683.9,433.5 1658.5,421.2 1635.5,411.1 1606.5,399.7 1584.5,392.2 1562.5,385.7 1537.5,379.7 1511.5,374.7 1484.5,370.6 1454.5,367.2 1390.5,362.8 1297.5,360.5 1234.5,359.9 1155.5,360.5 1107.5,362.3 1009.5,370.1 960.5,375.5 910.5,382.1 852.5,391.0 731.5,411.6 689.5,419.1 660.5,425.2 628.5,433.8 614.5,439.2 601.7,445.5 590.5,452.7 580.9,460.5 572.5,469.1 564.5,479.6 556.8,492.5 546.0,513.5 521.2,567.5 505.2,608.5 477.6,690.5 470.1,707.5 463.5,717.5 458.5,722.3 452.5,726.3 417.5,747.7 380.5,767.3 357.5,782.3 345.5,791.5 332.5,803.2 325.0,811.5 316.7,822.5 308.0,836.5 300.5,851.8 275.2,916.5 223.4,1036.5 213.6,1060.5 212.1,1064.5 212.4,1065.5 211.5,1066.0 209.4,1072.5 208.4,1073.5Z"/><path id="L18" d="M209.5,1073.5 211.1,1070.5 210.9,1069.5 212.2,1068.5 212.1,1067.5 275.7,948.5 313.9,870.5 324.7,853.5 331.5,845.5 340.5,836.9 353.5,827.2 362.5,821.6 378.5,813.8 401.5,805.0 429.5,792.9 479.5,769.1 493.5,760.5 504.5,750.5 514.5,737.5 524.0,720.5 533.6,698.5 556.7,637.5 568.5,609.5 585.1,575.5 607.8,534.5 617.3,519.5 624.5,512.1 634.5,506.8 650.5,502.1 676.5,496.9 708.5,492.0 789.5,482.0 815.5,479.7 874.5,475.8 929.5,473.3 987.5,472.1 1042.5,472.3 1196.5,478.1 1264.5,482.7 1337.5,489.1 1392.5,495.6 1429.5,501.2 1465.5,508.1 1499.5,516.4 1522.5,523.2 1539.5,529.3 1559.5,537.8 1585.5,550.1 1627.5,573.5 1673.5,603.5 1707.5,627.9 1749.4,659.5 1901.4,785.5 2015.5,874.7 2015.5,646.6 1905.5,569.5 1803.5,499.7 1754.5,468.2 1709.5,442.0 1683.5,428.4 1657.5,416.0 1634.5,406.1 1605.5,394.9 1583.5,387.6 1562.5,381.6 1538.5,375.9 1511.5,370.7 1454.5,363.4 1390.5,359.2 1234.5,356.6 1155.5,357.4 1107.5,359.3 1056.5,363.0 1007.5,367.5 909.5,379.7 851.5,388.8 731.5,409.6 689.5,417.3 660.5,423.5 627.5,432.4 613.5,437.9 601.5,443.9 589.5,451.5 579.8,459.5 571.5,468.1 562.9,479.5 555.2,492.5 544.5,513.5 520.7,565.5 504.0,608.5 477.3,688.5 470.1,705.5 462.5,717.2 454.5,724.0 419.5,745.6 380.5,766.4 357.5,781.6 343.5,792.4 333.5,801.5 324.5,811.4 316.5,822.1 307.6,836.5 299.4,853.5 272.1,923.5 213.5,1060.5 212.3,1065.5 208.4,1073.5Z"/><path id="L19" d="M209.5,1073.5 211.2,1070.5 210.9,1069.5 212.2,1068.5 274.9,950.5 314.3,870.5 325.2,853.5 332.0,845.5 339.5,838.3 352.5,828.5 361.5,822.8 377.5,815.0 401.5,805.7 429.9,793.5 479.5,770.1 493.7,761.5 505.5,750.8 515.5,737.8 525.1,720.5 534.6,698.5 557.0,639.5 567.9,613.5 582.8,582.5 604.1,543.5 615.5,524.5 622.7,515.5 632.5,509.3 647.5,504.5 674.5,499.0 704.5,494.4 775.5,485.7 811.5,482.2 872.5,478.2 925.5,475.9 983.5,474.8 1038.5,475.1 1087.5,476.5 1197.5,481.4 1266.5,486.2 1340.5,492.9 1391.5,499.1 1430.5,505.2 1466.5,512.3 1499.5,520.5 1522.5,527.5 1539.5,533.8 1559.5,542.4 1583.5,553.9 1626.5,578.1 1672.5,608.4 1706.5,633.0 1746.5,663.4 1896.8,789.5 2015.5,882.8 2015.5,639.3 1911.5,567.2 1801.1,492.5 1752.5,461.6 1709.5,437.0 1683.5,423.5 1657.5,411.3 1633.5,401.2 1604.5,390.2 1580.5,382.3 1559.5,376.6 1534.5,370.9 1509.5,366.3 1452.5,359.4 1388.5,355.6 1293.5,353.7 1230.5,353.4 1149.5,354.4 1104.5,356.4 1053.5,360.3 1004.5,365.1 905.5,377.8 849.5,386.8 728.5,408.1 686.5,416.0 657.5,422.4 626.5,431.0 612.5,436.6 598.5,443.9 588.4,450.5 578.8,458.5 570.1,467.5 561.9,478.5 554.2,491.5 543.6,512.5 519.4,565.5 503.6,606.5 475.9,689.5 469.0,705.5 461.9,716.5 454.5,722.9 420.5,744.1 381.5,765.0 356.6,781.5 343.5,791.7 331.8,802.5 325.4,809.5 316.4,821.5 307.1,836.5 299.9,851.5 271.9,923.5 213.5,1060.5 212.2,1065.5 208.4,1073.5Z"/><path id="L20" d="M209.6,1073.5 211.2,1070.5 211.0,1069.5 212.3,1068.5 275.1,950.5 314.6,870.5 324.9,854.5 331.6,846.5 339.5,838.9 352.5,829.1 361.5,823.5 377.5,815.6 401.5,806.5 430.5,794.1 480.5,770.6 494.5,762.0 506.1,751.5 517.4,736.5 526.7,719.5 536.1,697.5 557.8,640.5 567.4,617.5 582.1,586.5 600.4,552.5 614.5,528.5 622.5,517.6 631.5,511.4 644.5,506.9 667.5,502.0 697.5,497.2 763.5,489.1 805.5,484.9 868.5,480.8 921.5,478.5 979.5,477.5 1034.5,477.9 1083.5,479.4 1197.5,484.6 1265.5,489.5 1338.5,496.1 1390.5,502.6 1429.5,508.8 1463.5,515.6 1498.5,524.4 1519.5,530.8 1537.5,537.5 1557.5,546.1 1583.0,558.5 1625.5,582.7 1672.5,614.1 1742.5,666.5 1892.5,793.8 2015.5,891.0 2015.5,631.9 1915.5,563.5 1799.5,485.8 1752.9,456.5 1709.5,431.9 1683.5,418.6 1658.5,407.0 1635.5,397.4 1605.5,386.1 1583.5,378.9 1562.5,373.1 1537.5,367.5 1510.5,362.5 1453.5,355.7 1390.5,352.1 1232.5,350.1 1150.5,351.3 1106.5,353.3 1055.5,357.2 1006.5,362.1 957.5,367.9 906.5,375.1 848.5,384.6 730.5,405.8 688.5,413.8 657.5,420.7 625.5,429.6 609.5,436.3 597.5,442.7 587.3,449.5 577.7,457.5 569.2,466.5 561.0,477.5 553.8,489.5 543.1,510.5 518.6,564.5 502.1,607.5 474.9,689.5 467.4,706.5 460.7,716.5 453.5,722.6 420.5,743.2 379.5,765.4 356.5,780.8 344.5,790.2 333.1,800.5 324.8,809.5 315.9,821.5 306.7,836.5 299.6,851.5 271.7,923.5 219.5,1045.5 209.4,1072.5 208.4,1073.5Z"/><path id="L21" d="M209.6,1073.5 211.3,1070.5 211.0,1069.5 212.3,1068.5 275.4,950.5 314.9,870.5 325.5,854.2 332.5,846.1 341.5,837.8 361.5,824.1 377.5,816.2 402.5,806.8 428.5,795.7 480.5,771.5 495.3,762.5 506.5,752.3 517.9,737.5 527.7,719.5 537.2,697.5 567.7,619.5 581.4,590.5 601.3,553.5 616.5,527.8 623.5,518.6 631.5,513.0 644.5,508.5 669.5,503.3 699.5,498.7 765.5,491.0 807.5,486.9 868.5,483.2 923.5,481.0 981.5,480.1 1036.5,480.7 1197.5,487.8 1267.5,493.0 1341.5,499.9 1389.5,506.1 1430.5,512.8 1464.5,519.8 1498.5,528.6 1519.5,535.1 1537.5,542.0 1556.9,550.5 1582.5,563.1 1624.5,587.3 1671.5,619.1 1739.5,670.4 1888.5,798.4 2015.5,899.3 2015.5,624.5 1798.5,479.5 1751.5,450.3 1709.5,426.9 1683.0,413.5 1658.5,402.3 1606.5,382.0 1582.5,374.3 1560.7,368.5 1535.5,363.0 1510.5,358.5 1453.5,352.0 1390.5,348.5 1232.5,346.9 1148.5,348.2 1105.5,350.3 1054.5,354.4 1005.5,359.4 956.5,365.4 904.5,372.9 846.5,382.6 731.5,403.6 687.5,412.2 656.5,419.2 624.5,428.3 608.5,435.1 596.5,441.6 586.3,448.5 576.5,456.7 568.2,465.5 559.5,477.3 551.8,490.5 541.3,511.5 517.4,564.5 500.9,607.5 474.6,687.5 467.4,704.5 460.4,715.5 452.5,722.2 419.5,742.9 381.4,763.5 357.5,779.4 345.5,788.6 332.5,800.4 324.5,809.2 315.5,821.3 306.5,836.2 299.2,851.5 271.4,923.5 219.5,1045.5 209.3,1072.5 208.4,1073.5Z"/><path id="L22" d="M209.6,1073.5 211.3,1070.5 211.1,1069.5 212.3,1068.5 274.5,952.5 314.7,871.5 325.7,854.5 332.6,846.5 341.5,838.3 361.5,824.6 377.5,816.9 402.5,807.6 428.5,796.5 480.5,772.5 495.5,763.4 507.5,752.6 519.0,737.5 528.5,720.0 538.6,696.5 558.5,644.5 569.3,618.5 583.2,589.5 600.4,557.5 615.7,531.5 623.5,520.5 631.5,514.6 643.5,510.4 669.5,505.0 697.5,500.8 763.5,493.2 807.5,489.1 868.5,485.5 923.5,483.5 979.5,482.8 1035.5,483.5 1198.5,491.1 1267.5,496.3 1341.5,503.4 1389.5,509.8 1429.5,516.5 1464.5,523.8 1497.5,532.5 1519.5,539.5 1535.5,545.6 1554.5,554.1 1581.5,567.5 1623.5,592.0 1671.5,624.9 1735.5,673.5 1884.5,803.1 2015.5,907.8 2015.5,617.1 1797.5,473.2 1751.5,445.0 1708.9,421.5 1682.5,408.4 1657.5,397.1 1605.5,377.2 1582.5,370.0 1561.5,364.5 1536.5,359.1 1510.5,354.5 1453.5,348.2 1390.5,345.0 1230.5,343.6 1148.5,345.1 1105.5,347.3 1054.5,351.5 1005.5,356.6 956.5,362.8 903.5,370.5 845.5,380.4 731.5,401.7 687.5,410.4 656.2,417.5 624.5,426.6 609.5,432.9 595.5,440.5 583.5,448.8 573.7,457.5 565.5,466.7 558.4,476.5 550.5,490.1 539.9,511.5 515.5,566.0 499.8,607.5 473.6,687.5 466.4,704.5 460.0,714.5 452.5,721.2 419.5,742.1 380.5,763.2 357.5,778.6 343.6,789.5 333.7,798.5 325.5,807.2 316.2,819.5 306.5,835.4 298.9,851.5 271.2,923.5 218.6,1047.5 209.3,1072.5 208.4,1073.5 208.5,1074.0Z"/><path id="L23" d="M209.6,1073.5 211.4,1070.5 211.1,1069.5 212.4,1068.5 274.7,952.5 315.0,871.5 326.1,854.5 333.2,846.5 341.5,838.8 360.5,825.8 377.5,817.5 402.5,808.3 429.5,796.8 481.5,772.9 495.5,764.5 507.8,753.5 519.5,738.3 529.3,720.5 538.8,698.5 569.6,620.5 583.4,591.5 600.6,559.5 617.2,531.5 624.4,521.5 631.5,516.2 643.5,512.0 669.5,506.7 697.5,502.5 763.5,495.2 807.5,491.2 868.5,487.9 924.5,486.0 979.5,485.5 1035.5,486.4 1198.5,494.3 1268.5,499.7 1340.5,506.8 1388.5,513.3 1428.5,520.1 1463.5,527.6 1497.5,536.7 1518.5,543.5 1536.5,550.6 1580.5,571.9 1601.5,583.8 1623.5,597.4 1671.5,630.7 1732.5,677.5 1880.0,807.5 2015.5,916.5 2015.5,609.7 1794.5,465.6 1749.5,438.5 1708.5,416.2 1682.5,403.5 1658.5,392.8 1627.5,380.6 1604.5,372.5 1581.5,365.4 1559.5,359.8 1534.5,354.6 1508.5,350.2 1450.5,344.2 1387.5,341.3 1227.5,340.4 1142.5,342.1 1102.5,344.5 1051.5,348.9 1000.5,354.4 951.5,360.8 899.5,368.7 840.5,379.0 728.5,400.3 684.5,409.2 653.5,416.5 623.5,425.3 606.9,432.5 594.5,439.4 584.2,446.5 574.5,454.8 565.5,464.5 557.5,475.5 549.4,489.5 539.0,510.5 515.3,563.5 499.0,606.5 472.2,688.5 465.4,704.5 458.9,714.5 451.5,720.9 417.5,742.5 380.4,762.5 356.7,778.5 343.5,788.9 332.0,799.5 323.9,808.5 315.8,819.5 306.1,835.5 298.6,851.5 271.8,921.5 218.5,1047.5 209.3,1072.5 208.3,1073.5 208.5,1074.1Z"/><path id="L24" d="M208.5,1074.1 211.4,1070.5 211.2,1069.5 212.4,1068.5 277.5,947.5 315.3,871.5 325.5,855.9 332.7,847.5 340.5,840.2 353.5,830.7 362.5,825.2 379.5,817.3 402.5,809.0 427.5,798.5 481.5,773.8 496.5,764.8 508.5,754.0 520.5,738.5 530.3,720.5 539.8,698.5 569.8,622.5 582.6,595.5 599.8,563.5 616.2,535.5 624.5,523.4 631.5,517.8 642.5,513.8 666.5,508.9 697.5,504.3 759.5,497.6 805.5,493.6 866.5,490.3 922.5,488.5 977.5,488.1 1033.5,489.1 1196.5,497.4 1264.5,502.7 1340.5,510.3 1387.5,516.7 1427.5,523.8 1460.5,530.9 1496.2,540.5 1516.5,547.2 1534.5,554.3 1559.5,566.0 1579.5,576.3 1600.5,588.4 1622.5,602.2 1669.5,635.1 1728.5,680.6 1877.5,813.6 2015.5,925.2 2015.5,602.2 1794.5,460.0 1750.0,433.5 1708.5,411.2 1683.5,399.1 1658.5,388.1 1628.5,376.4 1605.5,368.3 1582.5,361.4 1560.5,355.8 1534.5,350.5 1508.5,346.2 1452.5,340.5 1389.5,337.8 1227.5,337.2 1141.5,339.1 1102.5,341.4 1051.5,346.0 1000.5,351.7 951.5,358.2 898.5,366.3 840.5,376.6 731.5,397.7 685.5,407.2 654.5,414.5 623.5,423.6 608.5,430.1 595.5,437.1 583.5,445.3 573.9,453.5 564.6,463.5 557.2,473.5 549.5,486.5 539.5,506.5 514.1,563.5 498.0,606.5 472.0,686.5 464.9,703.5 458.5,713.7 451.5,719.9 418.5,741.0 379.5,762.3 356.5,778.0 342.5,789.1 331.5,799.3 323.5,808.3 315.5,819.2 305.7,835.5 298.2,851.5 271.6,921.5 218.5,1047.5 209.3,1072.5 208.3,1073.5Z"/><path id="L25" d="M208.5,1074.2 211.5,1070.5 211.2,1069.5 212.4,1068.5 274.1,954.5 315.6,871.5 323.2,859.5 332.2,848.5 339.5,841.5 347.5,835.3 359.5,827.5 368.5,822.7 427.5,799.2 486.5,772.1 494.5,767.2 502.0,761.5 514.5,748.4 523.9,734.5 532.7,717.5 568.3,628.5 579.4,604.5 593.9,576.5 612.2,544.5 624.4,525.5 627.5,522.2 631.5,519.4 642.5,515.4 668.5,510.2 699.5,505.8 763.5,499.2 807.5,495.6 868.5,492.6 924.5,491.0 980.5,490.8 1033.5,492.0 1199.5,500.8 1267.5,506.3 1339.5,513.6 1386.5,520.2 1426.5,527.4 1459.5,534.7 1494.5,544.2 1514.5,550.8 1532.5,558.1 1558.5,570.3 1578.5,580.8 1620.7,606.5 1669.5,641.1 1725.3,684.5 1873.4,818.5 1963.5,892.4 2015.5,933.8 2015.5,594.8 1862.5,498.2 1793.5,453.8 1749.5,427.9 1708.5,406.2 1683.5,394.2 1657.5,383.0 1627.5,371.4 1604.5,363.6 1580.5,356.5 1558.5,351.2 1533.5,346.2 1508.5,342.2 1452.5,336.8 1389.5,334.2 1227.5,333.9 1141.5,335.9 1102.5,338.4 1050.5,343.2 999.5,349.0 950.5,355.7 898.5,363.8 839.5,374.5 733.5,395.4 685.5,405.4 652.5,413.3 621.5,422.7 605.5,429.9 592.5,437.2 580.5,445.9 570.9,454.5 562.1,464.5 555.0,474.5 547.0,488.5 537.5,507.9 513.4,562.5 497.6,604.5 471.0,686.5 463.9,703.5 457.5,713.5 450.5,719.6 416.5,741.4 379.5,761.5 357.5,776.5 344.5,786.7 332.5,797.7 324.5,806.4 315.5,818.5 306.4,833.5 298.8,849.5 271.4,921.5 218.4,1047.5Z"/><path id="L26" d="M209.6,1073.5 274.2,954.5 315.9,871.5 323.6,859.5 332.5,848.7 347.5,835.8 359.5,828.0 368.5,823.3 426.1,800.5 487.5,772.5 502.5,762.1 515.5,748.5 524.9,734.5 533.7,717.5 568.6,630.5 579.6,606.5 592.5,581.5 610.0,550.5 624.5,527.5 630.6,521.5 641.5,517.2 666.5,512.1 697.5,507.8 759.5,501.6 807.5,497.8 868.5,494.9 924.5,493.5 980.5,493.5 1034.5,494.8 1197.5,503.8 1265.5,509.5 1338.5,517.0 1385.5,523.7 1423.5,530.6 1459.5,538.8 1494.5,548.5 1513.5,554.9 1532.5,562.7 1576.5,584.7 1618.4,610.5 1666.5,644.8 1721.5,687.9 1868.5,822.8 1966.5,903.7 2004.5,934.3 2015.5,942.4 2015.5,587.3 1864.5,493.5 1791.5,447.0 1748.5,422.0 1707.5,400.6 1658.5,378.7 1628.5,367.2 1605.5,359.5 1581.5,352.5 1559.5,347.2 1533.5,342.1 1508.5,338.2 1452.5,333.0 1389.5,330.7 1225.5,330.7 1139.5,332.9 1101.5,335.4 1050.5,340.3 999.5,346.3 948.5,353.4 895.5,361.9 835.5,372.9 732.5,393.6 684.5,403.8 651.5,411.9 621.5,421.0 606.5,427.7 593.5,434.9 581.5,443.3 571.5,452.0 562.8,461.5 554.8,472.5 547.2,485.5 537.3,505.5 512.2,562.5 496.5,604.5 470.8,684.5 463.9,701.5 457.3,712.5 450.5,718.7 417.5,740.0 379.5,760.8 355.5,777.3 341.7,788.5 330.5,799.1 323.8,806.5 315.0,818.5 306.0,833.5 298.4,849.5 271.1,921.5 218.4,1047.5 208.5,1074.2Z"/><path id="L27" d="M209.7,1073.5 274.4,954.5 316.3,871.5 323.9,859.5 332.5,849.2 346.5,837.0 358.5,829.2 367.5,824.3 426.5,801.0 487.5,773.4 495.5,768.5 503.3,762.5 516.5,748.5 525.3,735.5 534.5,717.8 570.1,629.5 580.3,607.5 591.5,585.5 608.4,555.5 624.6,529.5 630.5,523.2 640.5,519.0 666.5,513.8 697.5,509.5 757.5,503.8 805.5,500.1 864.5,497.4 920.5,496.0 976.5,496.1 1030.5,497.5 1198.5,507.1 1266.5,512.9 1338.5,520.5 1384.5,527.2 1422.5,534.3 1456.5,542.0 1493.5,552.5 1512.5,559.0 1531.5,566.9 1555.5,578.5 1575.5,589.3 1596.5,601.8 1618.5,616.1 1666.0,650.5 1717.9,691.5 1863.9,827.5 1971.5,916.8 2002.5,941.8 2015.5,950.8 2015.5,579.8 1866.5,488.8 1790.5,440.8 1748.1,416.5 1707.5,395.6 1681.5,383.6 1657.5,373.5 1606.5,355.4 1582.5,348.4 1560.5,343.2 1534.5,338.2 1509.5,334.4 1452.5,329.2 1389.5,327.1 1225.5,327.5 1139.5,329.8 1101.5,332.4 1049.5,337.5 998.5,343.6 947.5,350.9 894.5,359.5 834.5,370.7 734.5,391.2 684.5,402.0 651.5,410.2 620.5,419.8 605.5,426.6 593.1,433.5 580.5,442.3 570.5,451.1 561.5,461.0 553.9,471.5 545.8,485.5 536.9,503.5 511.9,560.5 495.8,603.5 468.8,687.5 462.5,702.5 456.2,712.5 449.5,718.4 415.5,740.4 378.8,760.5 357.0,775.5 343.2,786.5 331.5,797.4 323.5,806.2 314.6,818.5 305.6,833.5 297.5,851.0 270.9,921.5 217.5,1049.5 208.5,1074.3Z"/><path id="K0" d="M412.0,776.5 418.5,773.5 419.5,772.2 420.5,772.6 421.5,771.5 424.5,770.6 426.4,769.5 426.5,768.5 427.5,769.0 428.5,767.9 429.5,768.0 456.0,753.5 456.5,752.6 459.5,751.8 473.5,743.9 481.5,737.3 490.6,726.5 498.5,712.5 505.0,697.5 515.4,669.5 527.8,632.5 538.6,604.5 551.3,575.5 564.5,548.5 584.5,511.5 593.1,498.5 602.5,488.3 615.5,479.2 624.5,475.0 637.5,470.6 674.5,462.1 737.5,452.3 818.5,442.2 876.5,436.0 948.5,430.2 1019.5,426.3 1079.5,424.6 1153.5,424.5 1229.5,426.4 1321.5,431.1 1406.5,437.3 1448.5,442.0 1491.5,448.8 1514.5,453.5 1537.5,459.3 1569.5,469.3 1602.5,482.3 1636.5,498.2 1669.5,516.1 1705.5,537.8 1738.5,559.5 1792.5,597.4 2015.5,761.5 2015.5,752.3 1816.5,606.6 1764.5,569.5 1721.5,540.4 1680.5,515.0 1645.5,495.6 1611.5,479.3 1574.5,464.3 1536.5,452.4 1499.5,443.9 1459.5,437.2 1410.5,431.5 1330.5,425.6 1244.5,421.2 1166.5,419.2 1092.5,419.2 1028.5,421.0 960.5,424.7 892.5,430.4 821.5,437.9 747.5,447.5 682.5,457.4 641.5,466.3 626.5,471.2 616.5,475.5 609.5,479.5 601.5,485.4 590.5,497.5 578.8,516.5 562.8,546.5 549.7,573.5 539.2,597.5 528.2,625.5 505.7,690.5 496.5,712.5 489.7,724.5 483.7,732.5 476.5,739.5 471.5,743.0 444.5,757.6 440.5,760.5 437.5,761.5 434.1,763.5 433.5,764.7 432.5,764.3 428.5,766.5 426.7,767.5 426.5,768.5 425.5,768.0 418.5,771.6 417.5,772.8 416.5,772.5 415.5,773.6 414.5,773.4 410.5,775.5 410.5,776.5ZM400.5,782.0 409.5,777.8 410.5,776.5 409.5,775.9 408.5,777.1 407.5,776.8 406.5,778.0 405.5,777.8 399.9,780.5 399.6,781.5ZM391.5,786.3 399.3,782.5 399.3,781.5 398.5,781.1 390.5,785.5ZM382.8,790.5 383.5,788.7 384.5,789.7 390.5,786.5 390.3,785.5 389.3,785.5 388.5,786.9 387.5,786.3 381.7,789.5 381.7,790.5ZM375.5,794.3 380.7,791.5 381.4,790.5 380.5,789.9 379.5,791.1 378.5,791.0 374.5,793.5ZM368.5,798.1 369.5,796.8 370.5,797.0 374.4,794.5 373.5,793.7 372.5,795.2 371.5,794.8 367.6,797.5ZM356.5,805.4 361.5,802.2 362.5,800.7 363.5,801.0 367.3,798.5 366.5,797.7 365.5,799.2 364.5,798.9 361.5,800.8 360.5,802.4 359.5,801.9 355.9,804.5Z"/><path id="K1" d="M319.5,841.5 321.0,838.5 334.4,823.5 343.5,815.5 354.5,807.4 380.5,792.4 426.5,770.7 470.5,747.0 477.5,742.3 486.7,733.5 495.6,720.5 503.0,705.5 513.8,677.5 536.2,614.5 547.1,588.5 559.7,561.5 578.0,526.5 592.2,502.5 599.5,493.4 611.5,483.6 626.5,476.1 643.5,470.8 674.5,464.0 704.5,459.0 771.5,449.8 848.5,441.0 910.5,435.3 974.5,430.9 1059.5,427.7 1147.5,427.3 1233.5,429.6 1330.5,434.7 1402.5,440.1 1459.5,446.7 1511.5,456.2 1553.5,467.4 1590.5,480.9 1631.5,499.4 1669.5,519.9 1708.5,543.8 1751.5,572.6 1793.5,602.4 2015.5,766.1 2015.5,747.6 1805.5,594.5 1756.5,559.9 1716.5,533.2 1675.5,508.2 1636.5,487.4 1594.5,468.5 1560.5,456.1 1519.5,444.9 1472.5,435.9 1420.5,429.3 1356.5,424.2 1260.5,418.9 1168.5,416.4 1086.5,416.6 1004.5,419.7 942.5,423.7 876.5,429.7 805.5,437.9 729.5,448.2 684.5,455.3 650.5,462.4 627.5,469.0 610.5,477.1 597.5,487.1 588.0,498.5 576.6,517.5 559.8,549.5 546.0,578.5 534.9,604.5 524.4,632.5 506.4,684.5 497.7,706.5 490.6,720.5 482.7,731.5 475.5,738.5 464.5,745.7 429.5,765.0 376.5,791.1 357.5,802.3 347.5,809.6 335.5,820.2 324.5,832.5 324.7,833.5 323.5,833.8 318.5,840.5ZM315.5,846.1 318.9,842.5 318.5,841.8 315.2,845.5Z"/><path id="K2" d="M304.7,868.5 306.1,864.5 307.2,863.5 307.0,862.5 308.2,861.5 311.9,854.5 311.7,853.5 312.5,853.3 320.5,840.5 333.5,825.4 348.5,812.5 361.5,803.9 375.5,796.0 428.5,770.7 469.5,748.8 481.4,740.5 488.9,732.5 496.9,720.5 505.5,702.5 540.4,607.5 561.8,560.5 577.4,530.5 591.3,506.5 600.5,494.5 610.5,486.1 620.5,480.4 636.5,474.4 661.5,468.3 698.5,461.6 809.5,447.3 870.5,441.0 924.5,436.4 1006.5,431.9 1083.5,429.9 1169.5,430.5 1257.5,433.6 1362.5,439.9 1433.5,446.5 1488.5,454.8 1513.5,460.0 1539.5,466.6 1576.5,478.9 1619.5,497.2 1659.5,518.0 1703.5,544.5 1741.5,569.7 1791.5,605.1 2015.5,770.8 2015.5,743.0 1794.5,582.5 1753.5,553.8 1716.5,529.3 1673.5,503.3 1632.5,481.8 1593.5,464.6 1555.5,451.2 1532.5,444.7 1508.5,439.1 1482.5,434.2 1454.5,430.1 1392.5,423.7 1300.5,417.7 1210.5,414.3 1126.5,413.4 1044.5,415.2 960.5,420.0 900.5,425.1 838.5,431.8 765.5,441.2 699.5,450.9 664.5,457.5 638.5,463.8 619.5,470.6 606.5,477.8 595.0,487.5 585.5,499.5 574.4,518.5 556.8,552.5 543.2,581.5 531.5,609.5 498.9,700.5 491.5,716.5 485.2,726.5 476.5,736.2 465.5,743.9 425.5,765.9 372.5,792.3 358.5,800.8 345.5,810.4 333.5,821.4 319.4,838.5 308.2,857.5 308.2,858.5 307.2,859.5 308.2,860.5 306.5,861.1 304.0,866.5 304.1,867.5 303.0,868.5 303.5,869.5ZM299.5,880.3 301.1,875.5 302.2,874.5 301.8,873.5 303.1,872.5 302.5,871.6 301.5,872.3 299.2,877.5 299.4,878.5 298.3,879.5ZM294.4,892.5 296.5,886.5 297.5,885.5 296.5,884.5 294.8,888.5 295.0,889.5 293.8,890.5 294.4,891.5 293.0,892.5 293.5,893.3ZM289.5,902.5 291.9,898.5 291.6,897.5 292.8,896.5 292.5,895.8 291.5,896.3 290.2,900.5 289.1,901.5ZM285.5,912.5 285.9,910.5 287.0,909.5 286.6,908.5 288.0,907.5 287.5,906.7 284.3,912.5 284.5,913.1Z"/><path id="K3" d="M289.9,903.5 292.0,897.5 293.1,896.5 292.8,895.5 293.9,894.5 297.8,885.5 297.5,884.5 298.6,883.5 302.5,874.5 302.4,873.5 314.4,850.5 328.5,831.5 339.8,820.5 353.5,809.9 370.5,799.6 427.5,772.3 471.5,748.9 480.5,742.7 489.6,733.5 497.7,721.5 505.9,704.5 539.4,613.5 560.3,566.5 576.9,534.5 590.5,510.5 599.0,498.5 608.4,489.5 617.5,483.7 631.5,477.7 648.5,473.0 675.5,467.3 704.5,462.5 754.5,455.9 853.5,444.7 942.5,437.5 1024.5,433.7 1105.5,432.6 1199.5,434.2 1318.5,440.1 1409.5,447.1 1470.5,454.9 1497.5,459.8 1525.5,466.2 1564.5,478.0 1607.5,495.3 1649.5,516.3 1696.5,544.0 1739.5,572.4 1794.5,611.4 2015.5,775.5 2015.5,738.4 1791.5,576.3 1748.5,546.4 1711.5,522.2 1669.5,497.3 1628.5,476.2 1587.5,458.8 1548.5,445.7 1523.5,439.2 1497.5,433.7 1469.5,429.0 1437.5,424.8 1365.5,418.6 1256.5,412.8 1162.5,410.6 1082.5,411.4 994.5,415.3 910.5,422.0 856.5,427.7 800.5,434.6 727.5,444.8 681.5,452.3 651.5,458.7 630.5,464.6 614.5,471.3 601.6,479.5 591.2,489.5 581.3,503.5 566.4,530.5 550.4,562.5 538.7,588.5 528.2,614.5 498.4,698.5 491.2,714.5 484.5,725.5 475.6,735.5 466.5,742.0 426.5,764.3 391.5,781.4 370.5,792.5 356.5,801.3 340.5,813.9 326.5,828.5 320.3,836.5 312.6,848.5 304.5,864.5 298.1,879.5 298.3,880.5 293.5,890.5 293.8,891.5 292.7,892.5 288.9,901.5 289.1,902.5 288.0,903.5 288.5,904.5ZM284.5,915.4 287.3,909.5 287.0,908.5 288.2,907.5 287.9,906.5 289.1,905.5 288.5,904.5 287.5,904.9 284.1,912.5 284.3,913.5 283.2,914.5ZM280.8,923.5 282.3,920.5 282.1,919.5 283.3,918.5 282.8,917.5 284.2,916.5 283.5,915.6 282.5,916.3 280.2,922.5 279.2,923.5 279.5,924.3ZM275.7,934.5 277.1,930.5 278.2,929.5 277.8,928.5 279.1,927.5 278.5,926.6 275.1,932.5 275.4,933.5 274.2,934.5 274.5,935.1ZM270.5,944.3 272.8,939.5 274.0,938.5 273.5,937.5 271.0,941.5 271.3,942.5 270.0,943.5ZM266.5,953.4 268.8,949.5 268.6,948.5 269.7,947.5 269.5,947.0 268.5,947.0 266.9,950.5 267.2,951.5 265.9,952.5Z"/><path id="K4" d="M270.8,945.5 273.1,939.5 275.1,936.5 274.8,935.5 275.5,935.4 276.5,933.5 278.4,929.5 278.2,928.5 282.6,920.5 302.9,873.5 310.7,857.5 322.4,839.5 334.5,826.1 352.5,811.4 369.5,801.1 429.5,772.4 472.5,749.6 482.5,742.5 491.8,732.5 500.6,718.5 508.4,701.5 538.4,619.5 555.6,579.5 571.5,547.5 586.9,519.5 594.8,506.5 603.8,495.5 612.4,488.5 621.5,483.4 633.5,478.8 648.5,474.7 695.5,465.7 770.5,455.7 865.5,445.7 960.5,438.8 1051.5,435.6 1141.5,435.7 1248.5,439.1 1377.5,447.3 1448.5,454.8 1479.5,459.7 1509.5,465.7 1552.5,477.3 1572.5,484.3 1595.5,493.6 1637.5,513.6 1661.5,526.7 1686.5,541.6 1729.5,569.6 1789.5,611.9 2015.5,780.2 2015.5,733.7 1788.5,570.1 1745.5,540.3 1706.5,515.2 1662.5,489.7 1620.5,469.0 1578.5,452.0 1537.5,439.3 1509.5,432.8 1481.5,427.6 1449.5,423.0 1413.5,419.2 1301.5,411.7 1194.5,408.2 1112.5,408.0 1024.5,411.1 935.5,417.4 844.5,427.0 732.5,442.3 695.5,448.1 663.5,454.2 639.5,460.1 623.5,465.4 608.5,472.9 597.5,480.9 588.4,490.5 579.0,504.5 560.7,538.5 546.6,567.5 527.7,612.5 499.5,692.5 491.9,710.5 484.5,723.5 476.5,733.1 467.5,740.1 424.5,764.3 387.5,782.4 366.5,794.0 349.5,805.5 333.0,820.5 319.8,836.5 308.4,855.5 299.4,875.5 284.8,911.5 274.0,934.5 274.4,935.5 273.5,935.8 270.7,941.5 270.9,942.5 269.8,943.5 270.1,944.5 268.9,945.5 269.5,946.5ZM261.5,964.3 264.7,958.5 264.3,957.5 265.6,956.5 264.5,955.5 266.5,954.5 269.9,947.5 269.5,946.5 268.5,946.6 266.5,950.5 266.7,951.5 265.6,952.5 266.1,953.5 264.7,954.5 261.3,961.5 262.4,962.5 260.5,963.4 260.5,964.1ZM257.7,972.5 257.5,971.5 260.2,967.5 259.8,966.5 261.2,965.5 260.5,964.6 257.1,970.5 257.5,971.5 256.2,972.5 256.5,973.1ZM252.5,982.3 255.9,976.5 255.6,975.5 256.8,974.5 256.5,973.9 255.5,974.1 254.0,978.5 252.8,979.5 253.5,980.5 251.9,981.5Z"/><path id="K5" d="M257.9,972.5 260.4,967.5 260.2,966.5 261.4,965.5 282.8,920.5 309.1,861.5 319.3,844.5 325.5,836.5 334.5,826.8 351.5,812.9 369.5,802.0 426.5,774.9 474.5,749.6 485.2,741.5 494.0,731.5 500.9,720.5 508.9,703.5 537.5,625.5 554.3,585.5 566.4,560.5 581.2,532.5 594.0,510.5 601.5,500.2 607.5,494.1 614.5,489.0 622.5,484.7 632.5,480.8 662.5,473.3 705.5,466.0 803.5,453.9 903.5,444.8 990.5,439.8 1085.5,437.9 1151.5,438.6 1206.5,440.2 1340.5,447.6 1387.5,451.3 1428.5,455.4 1461.5,459.9 1493.5,465.6 1516.5,470.6 1540.5,477.0 1562.5,484.1 1585.5,492.9 1608.5,502.9 1632.5,514.7 1656.5,527.7 1681.5,542.4 1727.5,572.3 1786.0,613.5 2015.5,784.9 2015.5,729.2 1785.5,563.9 1742.5,534.3 1704.5,510.1 1658.5,483.9 1614.5,462.8 1591.5,453.3 1570.5,445.8 1528.5,433.7 1500.5,427.7 1468.5,422.4 1433.5,418.0 1393.5,414.4 1275.5,407.6 1212.5,405.7 1150.5,404.9 1062.5,406.8 971.5,412.1 881.5,420.6 784.5,432.9 696.5,446.1 667.5,451.7 641.5,457.8 625.5,462.9 613.1,468.5 601.5,475.7 591.6,484.5 583.5,494.7 574.5,509.5 557.6,541.5 543.8,570.5 525.2,615.5 496.3,697.5 489.1,713.5 482.5,724.4 475.5,732.6 465.5,740.1 425.5,762.6 385.5,782.4 362.5,795.5 344.5,808.8 329.5,823.5 317.2,839.5 305.7,860.5 279.6,922.5 261.2,961.5 261.4,962.5 260.5,963.1 256.9,970.5 257.1,971.5 256.0,972.5 256.5,973.4ZM252.5,982.4 255.9,975.5 257.0,974.5 256.5,973.6 255.5,973.7 252.6,979.5 253.0,980.5 251.7,981.5ZM249.5,989.5 251.6,985.5 251.1,984.5 252.6,983.5 251.5,982.5 248.3,988.5ZM244.5,998.5 247.1,994.5 246.8,993.5 248.1,992.5 247.5,991.6 244.0,997.5Z"/><path id="K6" d="M244.7,999.5 247.3,994.5 247.1,993.5 248.3,992.5 251.8,985.5 251.6,984.5 256.2,976.5 278.0,931.5 309.4,861.5 319.8,844.5 329.6,832.5 345.5,818.1 356.5,810.4 366.5,804.6 380.5,797.3 428.5,775.0 475.5,750.3 485.7,742.5 496.0,730.5 503.7,717.5 510.5,702.5 540.0,622.5 556.2,584.5 579.5,538.5 593.2,514.5 601.5,502.4 607.1,496.5 613.5,491.5 621.5,486.9 629.5,483.5 658.5,475.9 695.5,469.2 792.5,457.0 891.5,447.8 980.5,442.6 1075.5,440.6 1145.5,441.3 1200.5,442.8 1329.5,450.0 1418.5,457.5 1453.5,461.9 1487.5,467.7 1515.5,473.7 1537.5,479.5 1559.5,486.5 1580.5,494.4 1603.5,504.2 1627.5,515.8 1651.5,528.6 1676.5,543.3 1722.5,572.9 1783.5,615.8 2015.5,789.5 2015.5,724.6 1782.5,557.7 1737.5,527.1 1699.5,503.2 1674.5,488.8 1649.5,475.6 1604.5,455.0 1563.5,440.1 1519.5,428.3 1490.5,422.6 1456.5,417.5 1419.5,413.5 1377.5,410.1 1301.5,405.6 1257.5,403.9 1190.5,402.4 1130.5,402.2 1035.5,405.4 937.5,412.6 839.5,423.5 726.5,439.5 670.5,449.3 646.5,454.8 630.5,459.4 618.5,464.1 606.5,470.5 596.9,477.5 588.7,485.5 580.5,496.5 572.3,510.5 555.6,542.5 542.3,570.5 524.6,613.5 496.6,693.5 489.8,709.5 482.5,722.4 474.5,732.0 463.5,740.0 423.5,762.6 379.5,784.7 358.5,797.2 342.5,809.7 328.0,824.5 314.9,842.5 305.3,860.5 275.2,931.5 252.4,979.5 252.6,980.5 248.2,988.5 248.4,989.5 247.3,990.5 245.0,996.5 243.9,997.5 244.2,998.5 243.0,999.5 243.5,1000.3ZM239.5,1009.3 242.8,1003.5 242.6,1002.5 243.8,1001.5 243.5,1000.8 242.5,1000.8 240.8,1005.5 239.7,1006.5 240.4,1007.5 238.7,1008.5ZM236.6,1015.5 238.3,1012.5 237.6,1011.5 239.3,1010.5 238.5,1009.7 235.4,1015.5Z"/><path id="K7" d="M244.8,999.5 277.2,933.5 309.8,861.5 318.9,846.5 328.5,834.5 335.5,827.3 345.5,818.9 365.5,806.0 382.5,797.3 427.5,776.6 475.6,751.5 486.5,743.3 496.0,732.5 504.0,719.5 511.8,702.5 540.6,624.5 556.7,586.5 581.7,537.5 594.3,515.5 602.5,503.5 608.2,497.5 614.5,492.6 623.5,487.7 631.5,484.5 655.5,478.2 691.5,471.6 792.5,458.9 885.5,450.5 976.5,445.2 1067.5,443.3 1141.5,444.1 1196.5,445.6 1321.5,452.5 1412.5,460.0 1450.5,464.7 1481.5,469.8 1507.5,475.1 1531.5,481.2 1554.5,488.3 1577.5,496.7 1600.5,506.5 1624.5,517.9 1649.5,531.3 1674.5,545.9 1720.5,575.6 1782.8,619.5 2015.5,794.3 2015.5,720.0 1877.5,620.8 1779.5,551.5 1735.5,521.8 1697.5,498.2 1650.5,472.4 1626.5,460.9 1603.5,451.1 1562.5,436.4 1517.5,424.6 1487.5,418.9 1454.5,414.1 1418.5,410.2 1375.5,406.9 1301.5,402.6 1257.5,401.0 1190.5,399.6 1130.5,399.4 1033.5,403.0 935.5,410.5 837.5,421.7 722.5,438.3 668.5,448.0 644.5,453.6 629.5,458.1 617.5,462.8 605.5,469.3 596.5,475.8 587.6,484.5 579.4,495.5 570.1,511.5 555.1,540.5 540.4,571.5 522.9,614.5 494.2,696.5 488.0,710.5 481.8,721.5 473.5,731.4 464.5,738.2 424.5,761.0 377.5,784.8 358.2,796.5 340.5,810.6 327.5,824.3 315.7,840.5 305.9,858.5 280.7,918.5 257.5,969.5 242.9,999.5 243.5,1000.5ZM239.5,1009.4 243.9,1001.5 243.5,1000.5 242.5,1000.5 239.5,1006.5 240.0,1007.5 238.6,1008.5ZM236.5,1016.2 238.5,1012.5 238.0,1011.5 239.5,1010.5 238.5,1009.5 235.3,1015.5ZM231.5,1025.4 234.0,1021.5 233.6,1020.5 235.0,1019.5 234.5,1018.7 231.1,1024.5Z"/><path id="K8" d="M236.0,1017.5 238.6,1012.5 238.3,1011.5 239.6,1010.5 276.5,935.5 308.2,865.5 316.0,851.5 323.9,840.5 338.5,825.4 347.5,818.2 358.5,810.9 377.5,800.6 427.5,777.6 470.5,755.6 480.5,749.6 489.5,741.9 500.5,727.9 510.5,708.5 520.1,684.5 543.1,621.5 559.6,583.5 580.0,543.5 600.6,508.5 606.3,501.5 611.5,496.7 618.5,492.0 625.5,488.5 646.5,482.0 680.5,475.1 715.5,470.0 780.5,462.2 873.5,453.5 966.5,448.0 1057.5,445.9 1174.5,447.7 1271.5,452.3 1347.5,457.3 1394.5,461.3 1438.5,466.2 1475.5,472.0 1503.5,477.6 1528.5,483.7 1548.5,489.7 1571.5,497.8 1595.5,507.8 1619.5,519.1 1646.5,533.4 1671.5,548.0 1718.5,578.2 1779.9,621.5 2015.5,799.0 2015.5,715.4 1879.5,618.0 1779.5,547.4 1737.5,519.1 1697.5,494.4 1648.5,467.7 1625.5,456.9 1602.5,447.2 1581.5,439.3 1559.5,432.1 1536.5,425.7 1512.5,420.2 1477.5,414.0 1438.5,409.0 1396.5,405.3 1337.5,401.5 1297.5,399.4 1231.5,397.3 1170.5,396.5 1120.5,396.9 1023.5,401.1 971.5,404.9 922.5,409.5 823.5,421.5 699.5,440.3 653.5,449.6 635.5,454.4 623.5,458.6 610.6,464.5 600.9,470.5 591.5,478.3 584.8,485.5 575.8,498.5 565.8,516.5 551.1,545.5 537.7,574.5 521.5,614.5 494.5,692.5 487.7,708.5 481.7,719.5 473.5,729.8 463.5,737.5 424.5,759.9 380.5,782.2 357.5,796.1 339.8,810.5 325.9,825.5 315.2,840.5 305.6,858.5 280.5,918.5 239.4,1006.5 239.7,1007.5 238.5,1008.5 235.2,1015.5 235.5,1016.5 234.3,1017.5 234.5,1018.3ZM231.6,1026.5 234.1,1021.5 233.8,1020.5 235.1,1019.5 234.5,1018.6 231.0,1024.5 231.4,1025.5 230.1,1026.5 230.5,1027.2Z"/><path id="K9" d="M231.7,1026.5 234.2,1021.5 234.1,1020.5 238.7,1012.5 238.6,1011.5 246.8,996.5 276.7,935.5 308.5,865.5 317.1,850.5 325.3,839.5 340.5,824.4 357.5,812.3 376.5,802.0 426.5,779.2 471.0,756.5 482.5,749.5 491.5,741.5 501.5,728.5 511.4,709.5 521.4,684.5 543.7,623.5 561.5,582.5 579.4,547.5 601.0,510.5 606.5,503.5 611.5,498.6 617.5,494.3 624.5,490.6 641.5,484.9 673.5,478.1 705.5,473.1 765.5,465.8 865.5,456.3 958.5,450.7 1051.5,448.5 1168.5,450.4 1263.5,454.8 1347.5,460.4 1388.5,463.9 1434.5,468.9 1470.5,474.3 1500.5,480.2 1522.5,485.5 1545.5,492.1 1568.5,500.2 1592.5,510.0 1616.5,521.3 1641.5,534.4 1669.5,550.6 1718.5,582.2 1778.3,624.5 2015.5,803.7 2015.5,710.9 1781.5,544.8 1737.5,515.2 1697.5,490.5 1649.5,464.6 1625.5,453.4 1602.0,443.5 1580.5,435.5 1559.5,428.7 1537.5,422.7 1513.5,417.2 1478.5,411.0 1439.5,406.0 1396.5,402.2 1336.5,398.4 1297.5,396.3 1231.5,394.4 1170.5,393.7 1121.5,394.1 1023.5,398.6 972.5,402.4 922.5,407.2 822.5,419.6 697.5,438.8 649.5,448.9 634.5,453.0 620.5,458.1 609.5,463.3 599.7,469.5 590.5,477.1 582.5,486.1 574.7,497.5 563.7,517.5 549.1,546.5 537.1,572.5 519.8,615.5 494.0,690.5 486.0,709.5 479.7,720.5 472.3,729.5 461.5,737.5 425.5,758.2 381.7,780.5 357.5,795.2 341.0,808.5 326.9,823.5 316.0,838.5 306.1,856.5 271.3,938.5 240.2,1004.5 239.4,1007.5 235.1,1015.5 234.3,1018.5 230.9,1024.5 231.2,1025.5 230.0,1026.5 230.5,1027.3ZM226.5,1036.3 229.8,1030.5 229.5,1029.5 228.5,1030.0 227.9,1032.5 226.8,1033.5 227.4,1034.5 225.8,1035.5Z"/><path id="K10" d="M231.7,1026.5 277.0,935.5 308.8,865.5 315.6,853.5 323.4,842.5 329.5,835.4 339.5,825.9 357.5,813.1 376.5,802.9 426.5,780.2 471.5,757.5 483.5,750.1 492.5,742.0 503.4,727.5 512.6,709.5 522.5,684.9 545.4,622.5 561.1,586.5 581.5,546.5 602.1,511.5 607.5,504.6 612.5,499.8 618.5,495.5 625.5,491.9 641.5,486.6 671.5,480.2 702.5,475.3 755.5,468.8 800.5,464.0 856.5,459.1 952.5,453.3 1045.5,451.1 1162.5,453.0 1251.5,457.1 1380.5,466.2 1426.5,471.1 1464.5,476.5 1494.5,482.2 1519.5,488.0 1544.5,495.2 1565.5,502.5 1589.5,512.3 1611.5,522.4 1636.5,535.4 1664.5,551.4 1713.5,582.9 1776.5,627.3 2015.5,808.4 2015.5,706.3 1778.5,538.6 1737.5,511.2 1697.1,486.5 1649.5,460.9 1626.5,450.2 1601.5,439.8 1579.5,431.7 1558.5,425.0 1536.5,419.1 1511.5,413.5 1476.5,407.4 1435.5,402.4 1392.5,398.8 1330.5,395.0 1291.5,393.1 1229.5,391.4 1170.5,390.9 1121.5,391.3 1024.5,396.0 972.5,400.0 922.5,405.0 822.5,417.6 697.5,437.0 651.5,446.7 634.5,451.3 621.5,455.9 609.5,461.6 599.5,467.8 591.1,474.5 582.6,483.5 573.6,496.5 564.2,513.5 549.5,542.5 535.2,573.5 519.2,613.5 491.6,693.5 485.7,707.5 479.7,718.5 471.7,728.5 462.5,735.6 423.5,758.2 381.5,779.6 358.5,793.6 340.5,808.1 326.2,823.5 315.5,838.5 305.8,856.5 276.8,925.5 230.8,1024.5 231.0,1025.5 229.9,1026.5 230.5,1027.4ZM226.5,1036.4 229.9,1030.5 229.7,1029.5 230.8,1028.5 230.5,1027.6 229.5,1027.7 226.7,1033.5 227.2,1034.5 225.8,1035.5Z"/><path id="K11" d="M226.5,1036.5 230.9,1028.5 230.8,1027.5 233.5,1023.5 276.2,937.5 308.2,867.5 314.8,855.5 322.5,844.2 331.0,834.5 339.5,826.6 356.5,814.5 378.5,802.8 428.5,780.3 473.7,757.5 484.5,750.7 493.5,742.6 503.5,729.5 513.4,710.5 523.6,685.5 546.0,624.5 563.0,585.5 582.0,548.5 602.5,513.5 607.5,506.8 612.5,501.7 624.5,494.1 638.5,489.1 669.5,482.3 702.5,477.0 753.5,470.9 850.5,461.6 945.5,455.9 1039.5,453.7 1089.5,454.0 1158.5,455.7 1243.5,459.5 1377.5,469.1 1420.5,473.5 1460.5,479.1 1486.5,483.8 1515.5,490.3 1538.5,496.7 1562.5,504.9 1586.5,514.5 1611.5,526.1 1636.5,539.1 1664.5,555.3 1714.5,587.6 1774.5,630.0 2015.5,813.2 2015.5,701.8 1778.5,534.6 1737.5,507.3 1698.5,483.5 1650.5,457.8 1627.5,447.1 1602.5,436.7 1580.5,428.6 1559.5,422.0 1537.5,416.0 1512.5,410.4 1476.5,404.2 1435.5,399.2 1392.5,395.6 1326.5,391.7 1289.5,390.0 1227.5,388.5 1168.5,388.0 1121.5,388.6 1024.5,393.5 972.5,397.7 922.5,402.7 822.5,415.5 694.5,435.8 648.5,445.7 633.5,449.9 619.5,455.0 608.5,460.3 597.5,467.3 588.5,474.9 580.0,484.5 571.3,497.5 561.0,516.5 547.5,543.5 534.6,571.5 518.6,611.5 491.1,691.5 485.3,705.5 478.9,717.5 470.5,728.1 460.7,735.5 424.5,756.6 382.5,778.1 356.5,794.0 338.5,809.2 324.8,824.5 313.2,841.5 305.4,856.5 276.6,925.5 227.5,1031.5 226.5,1033.5 227.0,1034.5 225.7,1035.5ZM223.5,1043.4 225.6,1039.5 224.6,1038.5 226.5,1037.5 225.5,1036.6 222.5,1042.5Z"/><path id="K12" d="M222.5,1045.3 225.6,1039.5 224.9,1038.5 226.6,1037.5 276.4,937.5 308.5,867.5 315.2,855.5 322.8,844.5 331.5,834.7 338.5,828.2 347.5,821.2 358.5,814.1 380.5,802.8 429.5,780.9 472.5,759.3 484.5,752.1 494.2,743.5 502.9,732.5 511.9,716.5 523.3,689.5 547.0,625.5 558.4,598.5 579.2,556.5 602.2,516.5 611.5,504.7 622.5,496.8 637.5,491.0 662.5,485.3 691.5,480.4 728.5,475.6 793.5,468.5 840.5,464.5 937.5,458.5 1031.5,456.3 1083.5,456.6 1152.5,458.4 1233.5,461.9 1367.5,471.3 1412.5,475.7 1452.5,481.1 1481.5,486.1 1509.5,492.2 1532.5,498.3 1556.5,506.1 1581.5,515.9 1608.5,528.3 1633.5,541.2 1659.5,556.1 1709.5,588.2 1772.5,632.7 2015.5,817.9 2015.5,697.2 1780.5,531.9 1737.5,503.4 1698.5,479.7 1672.9,465.5 1648.5,453.2 1601.5,432.8 1579.5,424.9 1558.5,418.3 1535.5,412.2 1510.5,406.7 1473.5,400.6 1431.5,395.7 1388.5,392.3 1318.5,388.2 1220.5,385.5 1119.5,385.9 1020.5,391.2 967.5,395.7 917.5,401.0 817.5,414.2 742.5,425.9 688.5,435.2 642.5,445.6 629.5,449.5 616.5,454.6 605.5,460.2 594.7,467.5 585.8,475.5 578.9,483.5 570.8,495.5 558.9,517.5 544.5,546.5 532.8,572.5 516.9,612.5 489.4,692.5 483.6,706.5 477.6,717.5 470.5,726.6 461.5,733.7 422.5,756.6 380.5,778.2 357.5,792.4 339.5,807.4 324.2,824.5 314.0,839.5 306.0,854.5 276.4,925.5 226.5,1033.5 226.9,1034.5 225.6,1035.5 225.9,1036.5 222.4,1042.5 223.2,1043.5 221.5,1044.5Z"/><path id="K13" d="M222.5,1045.4 225.7,1039.5 225.2,1038.5 226.6,1037.5 275.7,939.5 308.9,867.5 316.2,854.5 324.2,843.5 338.5,828.9 347.5,821.9 358.5,814.9 377.5,805.1 429.5,782.0 474.5,759.5 485.5,752.7 494.8,744.5 504.9,731.5 513.7,715.5 525.0,688.5 547.5,627.5 559.0,600.5 578.7,560.5 602.6,518.5 612.5,505.8 623.5,498.0 637.5,492.7 662.5,487.0 697.5,481.3 742.5,475.9 795.5,470.3 854.5,465.5 909.5,462.1 958.5,460.0 1010.5,458.9 1059.5,458.9 1199.5,463.0 1347.5,472.7 1398.5,477.4 1440.5,482.5 1477.5,488.6 1510.5,495.7 1531.5,501.4 1553.5,508.5 1573.5,516.1 1595.5,525.7 1638.5,547.7 1685.5,576.3 1723.5,601.8 1770.5,635.4 2015.5,822.7 2015.5,692.7 1780.5,527.9 1737.6,499.5 1698.5,475.9 1674.5,462.7 1649.5,450.0 1626.5,439.6 1600.5,429.0 1578.5,421.1 1557.5,414.6 1534.5,408.6 1509.5,403.2 1471.5,397.1 1429.5,392.3 1386.5,389.0 1314.5,385.0 1218.5,382.6 1119.5,383.1 1068.5,385.5 1020.5,388.7 967.5,393.3 917.5,398.7 817.5,412.2 740.5,424.4 686.5,433.8 641.5,444.1 628.5,448.1 615.5,453.3 604.5,459.0 594.5,465.8 585.7,473.5 577.8,482.5 569.7,494.5 559.4,513.5 544.9,542.5 532.2,570.5 515.5,612.5 489.0,690.5 483.2,704.5 476.9,716.5 469.5,726.0 460.5,733.1 423.5,754.9 383.5,775.5 355.5,792.9 337.5,808.5 325.2,822.5 313.5,839.5 305.7,854.5 276.1,925.5 226.4,1033.5 226.7,1034.5 225.5,1035.5 222.3,1042.5 222.7,1043.5 221.4,1044.5Z"/>
<linearGradient id="eg" gradientUnits="userSpaceOnUse" x1="290" y1="0" x2="370" y2="0"><stop offset="0" stop-color="#3c5a96" stop-opacity="1"/><stop offset="1" stop-color="#3c5a96" stop-opacity="0"/></linearGradient>
<clipPath id="sx0"><rect x="0" y="0" width="1250" height="1304"/></clipPath><filter id="sf0" x="0" y="0" width="2016" height="1304" filterUnits="userSpaceOnUse"><feGaussianBlur stdDeviation="1.5"/></filter><clipPath id="sx1"><rect x="1250" y="0" width="150" height="1304"/></clipPath><filter id="sf1" x="0" y="0" width="2016" height="1304" filterUnits="userSpaceOnUse"><feGaussianBlur stdDeviation="2.2"/></filter><clipPath id="sx2"><rect x="1400" y="0" width="150" height="1304"/></clipPath><filter id="sf2" x="0" y="0" width="2016" height="1304" filterUnits="userSpaceOnUse"><feGaussianBlur stdDeviation="3.0"/></filter><clipPath id="sx3"><rect x="1550" y="0" width="150" height="1304"/></clipPath><filter id="sf3" x="0" y="0" width="2016" height="1304" filterUnits="userSpaceOnUse"><feGaussianBlur stdDeviation="3.7"/></filter><clipPath id="sx4"><rect x="1700" y="0" width="400" height="1304"/></clipPath><filter id="sf4" x="0" y="0" width="2016" height="1304" filterUnits="userSpaceOnUse"><feGaussianBlur stdDeviation="4.5"/></filter>
<clipPath id="cu"><path d="M-192.4,1475.1 L207.6,1075.1 226.0,1035.1 275.3,932.3 305.9,862.7 314.4,846.9 323.6,833.8 330.1,826.2 338.6,817.8 347.8,810.1 357.6,803.1 376.6,792.1 426.9,767.5 469.1,744.6 475.7,740.1 480.2,736.1 484.3,731.8 489.1,725.4 496.1,713.3 502.6,698.6 511.1,676.2 531.7,617.7 539.9,597.3 548.7,577.2 562.7,548.4 578.6,518.3 587.7,502.8 596.2,491.7 605.0,483.6 615.2,477.2 626.1,472.3 641.3,467.4 662.8,462.4 688.3,457.5 769.4,445.4 822.9,438.4 874.6,432.5 924.4,427.7 972.2,424.0 1018.2,421.4 1064.1,419.7 1112.1,418.8 1160.1,418.9 1218.1,420.0 1280.1,422.4 1349.9,426.2 1405.8,430.4 1445.6,434.5 1479.2,439.3 1512.6,445.7 1541.7,452.9 1560.9,458.7 1581.7,465.9 1602.1,474.1 1624.0,483.9 1645.4,494.7 1668.3,507.1 1690.7,520.3 1714.4,535.2 1751.0,559.6 1796.6,592.0 2010.9,749.6 2100.3,813.8 L2400.3,513.8 L2400,-200 L-200,-200 Z"/></clipPath>
<clipPath id="cd"><path d="M-192.4,1475.1 L207.6,1075.1 226.0,1035.1 275.3,932.3 305.9,862.7 314.4,846.9 323.6,833.8 330.1,826.2 338.6,817.8 347.8,810.1 357.6,803.1 376.6,792.1 426.9,767.5 469.1,744.6 475.7,740.1 480.2,736.1 484.3,731.8 489.1,725.4 496.1,713.3 502.6,698.6 511.1,676.2 531.7,617.7 539.9,597.3 548.7,577.2 562.7,548.4 578.6,518.3 587.7,502.8 596.2,491.7 605.0,483.6 615.2,477.2 626.1,472.3 641.3,467.4 662.8,462.4 688.3,457.5 769.4,445.4 822.9,438.4 874.6,432.5 924.4,427.7 972.2,424.0 1018.2,421.4 1064.1,419.7 1112.1,418.8 1160.1,418.9 1218.1,420.0 1280.1,422.4 1349.9,426.2 1405.8,430.4 1445.6,434.5 1479.2,439.3 1512.6,445.7 1541.7,452.9 1560.9,458.7 1581.7,465.9 1602.1,474.1 1624.0,483.9 1645.4,494.7 1668.3,507.1 1690.7,520.3 1714.4,535.2 1751.0,559.6 1796.6,592.0 2010.9,749.6 2100.3,813.8 L2400.3,513.8 L2400,1600 L-200,1600 Z"/></clipPath>
<g id="bandc">
<g clip-path="url(#cu)"><g fill="#5d78b0"><use href="#L27" fill-opacity="0.054"/><use href="#L26" fill-opacity="0.101"/><use href="#L25" fill-opacity="0.091"/><use href="#L24" fill-opacity="0.060"/><use href="#L23" fill-opacity="0.045"/><use href="#L22" fill-opacity="0.048"/><use href="#L21" fill-opacity="0.050"/><use href="#L20" fill-opacity="0.053"/><use href="#L19" fill-opacity="0.056"/><use href="#L18" fill-opacity="0.059"/><use href="#L17" fill-opacity="0.063"/><use href="#L16" fill-opacity="0.069"/><use href="#L15" fill-opacity="0.075"/><use href="#L14" fill-opacity="0.081"/><use href="#L13" fill-opacity="0.088"/><use href="#L12" fill-opacity="0.096"/><use href="#L11" fill-opacity="0.106"/><use href="#L10" fill-opacity="0.119"/><use href="#L9" fill-opacity="0.097"/><use href="#L8" fill-opacity="0.100"/><use href="#L7" fill-opacity="0.112"/><use href="#L6" fill-opacity="0.126"/><use href="#L5" fill-opacity="0.134"/><use href="#L4" fill-opacity="0.051"/><use href="#L3" fill-opacity="0.054"/><use href="#L2" fill-opacity="0.057"/><use href="#L1" fill-opacity="0.061"/><use href="#L0" fill-opacity="0.065"/></g></g>
<g clip-path="url(#cd)"><g fill="#5c79b0"><use href="#L27" fill-opacity="0.112"/><use href="#L26" fill-opacity="0.190"/><use href="#L25" fill-opacity="0.110"/><use href="#L24" fill-opacity="0.124"/><use href="#L23" fill-opacity="0.087"/><use href="#L22" fill-opacity="0.085"/><use href="#L21" fill-opacity="0.093"/><use href="#L20" fill-opacity="0.103"/><use href="#L19" fill-opacity="0.114"/><use href="#L18" fill-opacity="0.100"/><use href="#L17" fill-opacity="0.104"/><use href="#L16" fill-opacity="0.117"/><use href="#L15" fill-opacity="0.132"/><use href="#L14" fill-opacity="0.152"/><use href="#L13" fill-opacity="0.077"/><use href="#L12" fill-opacity="0.052"/><use href="#L11" fill-opacity="0.055"/><use href="#L10" fill-opacity="0.058"/><use href="#L9" fill-opacity="0.062"/><use href="#L8" fill-opacity="0.066"/><use href="#L7" fill-opacity="0.025"/><use href="#L6" fill-opacity="0.020"/><use href="#L5" fill-opacity="0.021"/><use href="#L4" fill-opacity="0.021"/><use href="#L3" fill-opacity="0.022"/><use href="#L2" fill-opacity="0.022"/><use href="#L1" fill-opacity="0.022"/><use href="#L0" fill-opacity="0.023"/></g></g>
<g fill="#4a86d4"><use href="#K13" fill-opacity="0.029"/><use href="#K12" fill-opacity="0.061"/><use href="#K11" fill-opacity="0.086"/><use href="#K10" fill-opacity="0.094"/><use href="#K9" fill-opacity="0.109"/><use href="#K8" fill-opacity="0.137"/><use href="#K7" fill-opacity="0.158"/><use href="#K6" fill-opacity="0.188"/><use href="#K5" fill-opacity="0.174"/><use href="#K4" fill-opacity="0.099"/><use href="#K3" fill-opacity="0.109"/><use href="#K2" fill-opacity="0.123"/><use href="#K1" fill-opacity="0.140"/><use href="#K0" fill-opacity="0.163"/></g>
<g fill="url(#eg)"><use href="#L27" fill-opacity="0.012"/><use href="#L26" fill-opacity="0.024"/><use href="#L25" fill-opacity="0.025"/><use href="#L24" fill-opacity="0.025"/><use href="#L23" fill-opacity="0.027"/><use href="#L22" fill-opacity="0.029"/><use href="#L21" fill-opacity="0.030"/><use href="#L20" fill-opacity="0.031"/><use href="#L19" fill-opacity="0.032"/><use href="#L18" fill-opacity="0.033"/><use href="#L17" fill-opacity="0.034"/><use href="#L16" fill-opacity="0.025"/></g>
</g>
</defs>
<g clip-path="url(#clipband)">
<g clip-path="url(#sx0)"><use href="#bandc" filter="url(#sf0)"/></g><g clip-path="url(#sx1)"><use href="#bandc" filter="url(#sf1)"/></g><g clip-path="url(#sx2)"><use href="#bandc" filter="url(#sf2)"/></g><g clip-path="url(#sx3)"><use href="#bandc" filter="url(#sf3)"/></g><g clip-path="url(#sx4)"><use href="#bandc" filter="url(#sf4)"/></g>
<g filter="url(#softl)"><g fill="none" stroke-linecap="round" stroke-linejoin="round"><polyline points="207.6,1075.1 209.3,1071.4 210.9,1067.8 212.5,1064.1 214.2,1060.5 215.9,1056.9 217.5,1053.2 219.2,1049.6 220.9,1046.0 222.6,1042.3 224.3,1038.7 224.3,1038.7" stroke="rgb(75,105,164)" stroke-width="1.51"/><polyline points="224.3,1038.7 226.0,1035.1 227.7,1031.5 229.5,1027.9 231.2,1024.3 232.9,1020.7 234.6,1017.1 236.4,1013.5 238.1,1009.9 239.9,1006.3 241.6,1002.7 241.6,1002.7" stroke="rgb(75,104,163)" stroke-width="1.52"/><polyline points="241.6,1002.7 243.3,999.1 245.1,995.5 246.8,991.9 248.6,988.3 250.3,984.7 252.1,981.1 253.8,977.5 255.6,973.9 257.3,970.3 259.0,966.7 259.0,966.7" stroke="rgb(74,104,162)" stroke-width="1.54"/><polyline points="259.0,966.7 260.8,963.1 262.5,959.5 264.2,955.8 266.0,952.2 267.7,948.6 269.4,945.0 271.1,941.4 272.8,937.8 274.5,934.1 276.1,930.5 276.1,930.5" stroke="rgb(74,103,162)" stroke-width="1.55"/><polyline points="276.1,930.5 277.8,926.9 279.5,923.2 281.1,919.6 282.8,915.9 284.4,912.3 286.0,908.6 287.6,905.0 289.2,901.3 290.8,897.6 292.4,894.0 292.4,894.0" stroke="rgb(74,103,161)" stroke-width="1.56"/><polyline points="292.4,894.0 294.0,890.3 295.5,886.6 297.1,882.9 298.6,879.2 300.2,875.5 301.7,871.9 303.4,868.2 305.0,864.6 306.8,860.9 308.5,857.4 308.5,857.4" stroke="rgb(74,102,160)" stroke-width="1.58"/><polyline points="308.5,857.4 310.4,853.8 312.4,850.3 314.4,846.9 316.5,843.5 318.8,840.2 321.1,837.0 323.6,833.8 326.1,830.7 328.7,827.7 331.5,824.8 331.5,824.8" stroke="rgb(74,102,159)" stroke-width="1.59"/><polyline points="331.5,824.8 334.3,821.9 337.1,819.1 340.1,816.4 343.1,813.8 346.2,811.3 349.4,808.9 352.6,806.5 355.9,804.3 359.3,802.1 362.7,799.9 362.7,799.9" stroke="rgb(73,101,158)" stroke-width="1.61"/><polyline points="362.7,799.9 366.1,797.9 369.6,795.9 373.1,794.0 376.6,792.1 380.2,790.2 383.7,788.4 387.3,786.7 390.9,784.9 394.5,783.2 398.1,781.5 398.1,781.5" stroke="rgb(73,100,156)" stroke-width="1.64"/><polyline points="398.1,781.5 401.7,779.8 405.4,778.1 409.0,776.4 412.6,774.6 416.2,772.9 419.8,771.1 423.4,769.4 426.9,767.5 430.5,765.7 434.0,763.8 434.0,763.8" stroke="rgb(72,100,154)" stroke-width="1.66"/><polyline points="434.0,763.8 437.5,761.9 441.0,759.9 444.5,758.0 448.0,756.0 451.5,754.1 455.0,752.2 458.6,750.3 462.1,748.5 465.6,746.6 469.1,744.6 469.1,744.6" stroke="rgb(72,99,152)" stroke-width="1.69"/><polyline points="469.1,744.6 472.5,742.4 475.7,740.1 478.8,737.5 481.6,734.7 484.3,731.8 486.8,728.6 489.1,725.4 491.3,722.0 493.3,718.6 495.2,715.1 495.2,715.1" stroke="rgb(71,98,151)" stroke-width="1.71"/><polyline points="495.2,715.1 497.0,711.5 498.7,707.8 500.3,704.2 501.9,700.5 503.4,696.8 504.8,693.1 506.3,689.3 507.7,685.6 509.1,681.8 510.4,678.1 510.4,678.1" stroke="rgb(71,97,150)" stroke-width="1.73"/><polyline points="510.4,678.1 511.8,674.3 513.1,670.5 514.4,666.8 515.8,663.0 517.1,659.2 518.4,655.4 519.7,651.6 521.0,647.9 522.3,644.1 523.6,640.3 523.6,640.3" stroke="rgb(71,97,149)" stroke-width="1.74"/><polyline points="523.6,640.3 524.9,636.5 526.2,632.8 527.6,629.0 528.9,625.2 530.3,621.5 531.7,617.7 533.2,614.0 534.6,610.3 536.1,606.6 537.6,602.9 537.6,602.9" stroke="rgb(71,97,148)" stroke-width="1.75"/><polyline points="537.6,602.9 539.1,599.2 540.7,595.5 542.3,591.8 543.8,588.1 545.5,584.5 547.1,580.8 548.7,577.2 550.4,573.5 552.1,569.9 553.8,566.3 553.8,566.3" stroke="rgb(71,96,148)" stroke-width="1.76"/><polyline points="553.8,566.3 555.6,562.7 557.3,559.1 559.1,555.5 560.9,551.9 562.7,548.4 564.5,544.8 566.3,541.2 568.2,537.7 570.0,534.2 571.9,530.6 571.9,530.6" stroke="rgb(70,96,147)" stroke-width="1.77"/><polyline points="571.9,530.6 573.8,527.1 575.7,523.6 577.7,520.1 579.6,516.6 581.6,513.1 583.6,509.6 585.6,506.2 587.7,502.8 590.0,499.5 592.4,496.3 592.4,496.3" stroke="rgb(70,95,146)" stroke-width="1.79"/><polyline points="592.4,496.3 594.9,493.2 597.6,490.2 600.4,487.4 603.5,484.8 606.7,482.4 610.0,480.2 613.4,478.1 616.9,476.3 620.6,474.5 624.2,473.0 624.2,473.0" stroke="rgb(70,95,144)" stroke-width="1.81"/><polyline points="624.2,473.0 628.0,471.6 631.8,470.3 635.6,469.1 639.4,468.0 643.3,466.9 647.2,465.9 651.1,465.0 654.9,464.1 658.9,463.2 662.8,462.4 662.8,462.4" stroke="rgb(69,93,141)" stroke-width="1.89"/><polyline points="662.8,462.4 666.7,461.6 670.6,460.8 674.5,460.0 678.5,459.3 682.4,458.6 686.3,457.9 690.3,457.2 694.2,456.5 698.2,455.9 702.1,455.3 702.1,455.3" stroke="rgb(68,91,137)" stroke-width="1.96"/><polyline points="702.1,455.3 706.1,454.6 710.0,454.0 714.0,453.4 717.9,452.8 721.9,452.2 725.8,451.6 729.8,451.0 733.8,450.5 737.7,449.9 741.7,449.3 741.7,449.3" stroke="rgb(67,89,133)" stroke-width="2.04"/><polyline points="741.7,449.3 745.6,448.7 749.6,448.2 753.5,447.6 757.5,447.0 761.5,446.5 765.4,445.9 769.4,445.4 773.4,444.8 777.3,444.3 781.3,443.8 781.3,443.8" stroke="rgb(66,87,129)" stroke-width="2.12"/><polyline points="781.3,443.8 785.2,443.2 789.2,442.7 793.2,442.2 797.1,441.7 801.1,441.1 805.1,440.6 809.0,440.1 813.0,439.6 817.0,439.1 821.0,438.6 821.0,438.6" stroke="rgb(65,85,125)" stroke-width="2.20"/><polyline points="821.0,438.6 824.9,438.2 828.9,437.7 832.9,437.2 836.8,436.7 840.8,436.3 844.8,435.8 848.8,435.3 852.7,434.9 856.7,434.4 860.7,434.0 860.7,434.0" stroke="rgb(64,83,121)" stroke-width="2.28"/><polyline points="860.7,434.0 864.7,433.6 868.6,433.1 872.6,432.7 876.6,432.3 880.6,431.9 884.5,431.5 888.5,431.1 892.5,430.7 896.5,430.3 900.5,429.9 900.5,429.9" stroke="rgb(63,81,117)" stroke-width="2.36"/><polyline points="900.5,429.9 904.5,429.5 908.4,429.1 912.4,428.8 916.4,428.4 920.4,428.0 924.4,427.7 928.4,427.4 932.3,427.0 936.3,426.7 940.3,426.4 940.3,426.4" stroke="rgb(62,80,114)" stroke-width="2.41"/><polyline points="940.3,426.4 944.3,426.0 948.3,425.7 952.3,425.4 956.3,425.1 960.3,424.8 964.2,424.5 968.2,424.3 972.2,424.0 976.2,423.7 980.2,423.5 980.2,423.5" stroke="rgb(62,79,113)" stroke-width="2.44"/><polyline points="980.2,423.5 984.2,423.2 988.2,423.0 992.2,422.7 996.2,422.5 1000.2,422.3 1004.2,422.1 1008.2,421.8 1012.2,421.6 1016.2,421.5 1020.1,421.3 1020.1,421.3" stroke="rgb(61,78,112)" stroke-width="2.46"/><polyline points="1020.1,421.3 1024.1,421.1 1028.1,420.9 1032.1,420.7 1036.1,420.6 1040.1,420.4 1044.1,420.3 1048.1,420.1 1052.1,420.0 1056.1,419.9 1060.1,419.8 1060.1,419.8" stroke="rgb(61,77,110)" stroke-width="2.48"/><polyline points="1060.1,419.8 1064.1,419.7 1068.1,419.6 1072.1,419.5 1076.1,419.4 1080.1,419.3 1084.1,419.2 1088.1,419.1 1092.1,419.1 1096.1,419.0 1100.1,418.9 1100.1,418.9" stroke="rgb(61,76,109)" stroke-width="2.51"/><polyline points="1100.1,418.9 1104.1,418.9 1108.1,418.9 1112.1,418.8 1116.1,418.8 1120.1,418.8 1124.1,418.8 1128.1,418.7 1132.1,418.7 1136.1,418.7 1140.1,418.8 1140.1,418.8" stroke="rgb(60,75,108)" stroke-width="2.53"/><polyline points="1140.1,418.8 1144.1,418.8 1148.1,418.8 1152.1,418.8 1156.1,418.8 1160.1,418.9 1164.1,418.9 1168.1,419.0 1172.1,419.0 1176.1,419.1 1180.1,419.1 1180.1,419.1" stroke="rgb(60,74,106)" stroke-width="2.56"/><polyline points="1180.1,419.1 1184.1,419.2 1188.1,419.3 1192.1,419.4 1196.1,419.4 1200.1,419.5 1204.1,419.6 1208.1,419.7 1212.1,419.8 1216.1,420.0 1220.1,420.1 1220.1,420.1" stroke="rgb(60,73,105)" stroke-width="2.58"/><polyline points="1220.1,420.1 1224.1,420.2 1228.1,420.3 1232.1,420.4 1236.1,420.6 1240.1,420.7 1244.1,420.9 1248.1,421.0 1252.1,421.2 1256.1,421.3 1260.1,421.5 1260.1,421.5" stroke="rgb(59,72,103)" stroke-width="2.60"/><polyline points="1260.1,421.5 1264.1,421.7 1268.1,421.8 1272.1,422.0 1276.1,422.2 1280.1,422.4 1284.0,422.6 1288.0,422.8 1292.0,422.9 1296.0,423.2 1300.0,423.4 1300.0,423.4" stroke="rgb(59,71,102)" stroke-width="2.63"/><polyline points="1300.0,423.4 1304.0,423.6 1308.0,423.8 1312.0,424.0 1316.0,424.2 1320.0,424.4 1324.0,424.7 1328.0,424.9 1332.0,425.1 1336.0,425.4 1340.0,425.6 1340.0,425.6" stroke="rgb(59,70,101)" stroke-width="2.65"/><polyline points="1340.0,425.6 1344.0,425.9 1347.9,426.1 1351.9,426.4 1355.9,426.6 1359.9,426.9 1363.9,427.2 1367.9,427.4 1371.9,427.7 1375.9,428.0 1379.9,428.3 1379.9,428.3" stroke="rgb(58,69,99)" stroke-width="2.68"/><polyline points="1379.9,428.3 1383.9,428.6 1387.9,428.9 1391.8,429.2 1395.8,429.5 1399.8,429.8 1403.8,430.2 1407.8,430.5 1411.8,430.9 1415.7,431.3 1419.7,431.7 1419.7,431.7" stroke="rgb(58,68,98)" stroke-width="2.70"/><polyline points="1419.7,431.7 1423.7,432.1 1427.7,432.5 1431.7,432.9 1435.6,433.4 1439.6,433.8 1443.6,434.3 1447.6,434.8 1451.5,435.3 1455.5,435.8 1459.5,436.4 1459.5,436.4" stroke="rgb(57,66,95)" stroke-width="2.75"/><polyline points="1459.5,436.4 1463.4,436.9 1467.4,437.5 1471.3,438.1 1475.3,438.7 1479.2,439.3 1483.2,440.0 1487.1,440.7 1491.0,441.4 1495.0,442.1 1498.9,442.9 1498.9,442.9" stroke="rgb(56,65,92)" stroke-width="2.80"/><polyline points="1498.9,442.9 1502.8,443.7 1506.8,444.5 1510.7,445.3 1514.6,446.1 1518.5,447.0 1522.4,447.9 1526.3,448.9 1530.1,449.8 1534.0,450.8 1537.9,451.9 1537.9,451.9" stroke="rgb(55,63,89)" stroke-width="2.84"/><polyline points="1537.9,451.9 1541.7,452.9 1545.6,454.0 1549.4,455.1 1553.3,456.3 1557.1,457.4 1560.9,458.7 1564.7,459.9 1568.5,461.2 1572.3,462.5 1576.0,463.8 1576.0,463.8" stroke="rgb(54,62,87)" stroke-width="2.89"/><polyline points="1576.0,463.8 1579.8,465.2 1583.5,466.6 1587.3,468.1 1591.0,469.5 1594.7,471.0 1598.4,472.5 1602.1,474.1 1605.8,475.7 1609.4,477.3 1613.1,478.9 1613.1,478.9" stroke="rgb(53,60,84)" stroke-width="2.93"/><polyline points="1613.1,478.9 1616.7,480.6 1620.3,482.2 1624.0,483.9 1627.6,485.7 1631.2,487.4 1634.8,489.2 1638.3,491.0 1641.9,492.8 1645.4,494.7 1649.0,496.5 1649.0,496.5" stroke="rgb(52,59,81)" stroke-width="2.98"/><polyline points="1649.0,496.5 1652.5,498.4 1656.0,500.3 1659.5,502.2 1663.0,504.2 1666.5,506.1 1670.0,508.1 1673.5,510.1 1676.9,512.1 1680.4,514.1 1683.8,516.2 1683.8,516.2" stroke="rgb(52,58,80)" stroke-width="3.00"/><polyline points="1683.8,516.2 1687.3,518.2 1690.7,520.3 1694.1,522.4 1697.5,524.5 1700.9,526.6 1704.3,528.7 1707.7,530.8 1711.0,533.0 1714.4,535.2 1717.8,537.3 1717.8,537.3" stroke="rgb(52,58,79)" stroke-width="3.00"/><polyline points="1717.8,537.3 1721.1,539.5 1724.4,541.7 1727.8,543.9 1731.1,546.2 1734.4,548.4 1737.7,550.6 1741.1,552.9 1744.4,555.1 1747.7,557.4 1751.0,559.6 1751.0,559.6" stroke="rgb(52,57,79)" stroke-width="3.00"/><polyline points="1751.0,559.6 1754.2,561.9 1757.5,564.2 1760.8,566.5 1764.1,568.8 1767.3,571.1 1770.6,573.4 1773.9,575.7 1777.1,578.0 1780.4,580.4 1783.6,582.7 1783.6,582.7" stroke="rgb(51,57,78)" stroke-width="3.00"/><polyline points="1783.6,582.7 1786.9,585.0 1790.1,587.4 1793.4,589.7 1796.6,592.0 1799.9,594.4 1803.1,596.7 1806.4,599.1 1809.6,601.4 1812.8,603.8 1816.1,606.1 1816.1,606.1" stroke="rgb(51,57,78)" stroke-width="3.00"/><polyline points="1816.1,606.1 1819.3,608.5 1822.5,610.8 1825.8,613.2 1829.0,615.5 1832.2,617.9 1835.5,620.3 1838.7,622.6 1841.9,625.0 1845.1,627.4 1848.4,629.7 1848.4,629.7" stroke="rgb(51,57,78)" stroke-width="3.00"/><polyline points="1848.4,629.7 1851.6,632.1 1854.8,634.5 1858.0,636.8 1861.3,639.2 1864.5,641.6 1867.7,643.9 1870.9,646.3 1874.1,648.7 1877.3,651.1 1880.6,653.4 1880.6,653.4" stroke="rgb(51,57,77)" stroke-width="3.00"/><polyline points="1880.6,653.4 1883.8,655.8 1887.0,658.2 1890.2,660.6 1893.4,663.0 1896.6,665.3 1899.9,667.7 1903.1,670.1 1906.3,672.5 1909.5,674.9 1912.7,677.2 1912.7,677.2" stroke="rgb(51,56,77)" stroke-width="3.00"/><polyline points="1912.7,677.2 1915.9,679.6 1919.2,682.0 1922.4,684.4 1925.6,686.8 1928.8,689.1 1932.0,691.5 1935.2,693.9 1938.4,696.3 1941.7,698.7 1944.9,701.0 1944.9,701.0" stroke="rgb(51,56,76)" stroke-width="3.00"/><polyline points="1944.9,701.0 1948.1,703.4 1951.3,705.8 1954.5,708.2 1957.7,710.6 1961.0,712.9 1964.2,715.3 1967.4,717.7 1970.6,720.1 1973.8,722.4 1977.0,724.8 1977.0,724.8" stroke="rgb(51,56,76)" stroke-width="3.00"/><polyline points="1977.0,724.8 1980.3,727.2 1983.5,729.5 1986.7,731.9 1989.9,734.3 1993.2,736.7 1996.4,739.0 1999.6,741.4 2002.8,743.7 2006.1,746.1 2009.3,748.5 2009.3,748.5" stroke="rgb(50,56,75)" stroke-width="3.00"/><polyline points="2009.3,748.5 2012.5,750.8 2015.8,753.2 2019.0,755.5 2022.2,757.9 2025.5,760.2 2028.7,762.6 2031.9,764.9 2035.2,767.3 2038.4,769.6 2041.7,772.0 2041.7,772.0" stroke="rgb(50,55,75)" stroke-width="3.00"/><polyline points="2041.7,772.0 2044.9,774.3 2048.1,776.7 2051.4,779.0 2054.6,781.3 2057.9,783.7 2061.1,786.0 2064.4,788.3 2067.6,790.7 2070.9,793.0 2074.2,795.3 2074.2,795.3" stroke="rgb(50,55,75)" stroke-width="3.00"/><polyline points="2074.2,795.3 2077.4,797.6 2080.7,799.9 2083.9,802.2 2087.2,804.6 2090.5,806.9 2093.7,809.2 2097.0,811.5 2100.3,813.8 2100.3,813.8" stroke="rgb(50,55,74)" stroke-width="3.00"/></g></g>
</g>

<!-- axes -->
<line x1="206.7" y1="238" x2="206.7" y2="1077.5" stroke="#000" stroke-width="3.6"/>
<path d="M205.9,224.2 L219.9,250.7 L205.9,245.7 L191.7,250.7 Z" fill="#000"/>
<line x1="204.9" y1="1075.5" x2="1960" y2="1075.5" stroke="#000" stroke-width="4"/>
<g stroke="#000" stroke-width="3.6">
<line x1="206.7" y1="1075" x2="206.7" y2="1091"/>
<line x1="620" y1="1075" x2="620" y2="1091"/>
<line x1="1034" y1="1075" x2="1034" y2="1091"/>
<line x1="1439" y1="1075" x2="1439" y2="1091"/>
<line x1="1849" y1="1075" x2="1849" y2="1091"/>
</g>

<g opacity="0.999" stroke="#000" stroke-width="0.5">
<!-- title -->
<path fill="#000" fill-rule="evenodd" d="M85.4,75.6 L76.9,75.6 L76.6,72.6 C74.6,74.9 71.2,76 67.3,76 C61.6,76 58.2,72.6 58.2,67.8 C58.2,62 62.6,58.9 68.2,58.1 L76.4,57 L76.4,55.3 C76.4,52.6 74.6,51.2 71.2,51.2 C67.8,51.2 65.6,52.4 65,54.6 L59.1,54.6 C59.5,47 64.9,42.9 71.6,42.9 C79.6,42.9 85.4,46 85.4,53.2 Z M76.4,61.6 L71.6,62.4 C69.1,62.8 67.5,64.1 67.5,66.1 C67.5,68.1 68.9,69.1 71.1,69.1 C74.3,69.1 76.4,67.1 76.4,64.1 Z"/>
<text x="158.8" y="73.3" font-size="50.35">Timeline of myelin changes throughout life</text>

<!-- stage row -->
<text x="46.7" y="195.5" font-size="50.5">Stage</text>
<text x="253" y="197.2" font-size="52.5" text-anchor="middle">1</text>
<text x="401.1" y="197.2" font-size="52.5" text-anchor="middle">2</text>
<text x="553" y="197.2" font-size="52.5" text-anchor="middle">3</text>
<text x="1031.3" y="197.2" font-size="52.5" text-anchor="middle">4</text>
<text x="1729.7" y="197.7" font-size="52.5" text-anchor="middle">5</text>

<text x="981.5" y="274.6" font-size="50.5">Adult</text>
<text x="1753.5" y="274.5" font-size="50.5">Ageing</text>

<!-- rotated labels -->
<text transform="translate(130.5,699.7) rotate(-90)" font-size="50.5">Myelin</text>
<text transform="translate(260.5,578.5) rotate(-90)" font-size="50.5">Early childhood</text>
<text transform="translate(368.5,461.8) rotate(-90)" font-size="50.5">Childhood</text>
<text transform="translate(531.5,523) rotate(-90)" font-size="50.5">Adolescence</text>

<!-- tick labels -->
<text x="206" y="1141.5" font-size="52.5" text-anchor="middle">0</text>
<text x="623.9" y="1141.5" font-size="52.5" text-anchor="middle">20</text>
<text x="1032.7" y="1141.5" font-size="52.5" text-anchor="middle">40</text>
<text x="1442" y="1141.5" font-size="52.5" text-anchor="middle">60</text>
<text x="1851" y="1141.5" font-size="52.5" text-anchor="middle">80</text>

<text x="799" y="1226" font-size="50.5">Age (years)</text>
<text x="1099" y="1227.5" font-size="46.5">Myelin waves highlighted by shaded area</text>
</g>
</svg>
</body></html>
